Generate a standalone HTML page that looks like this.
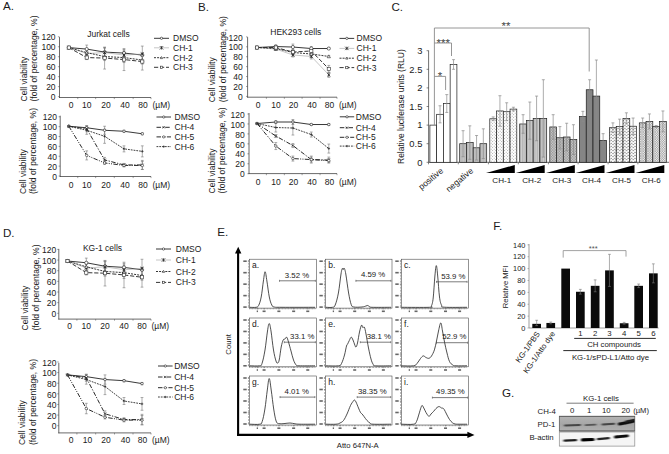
<!DOCTYPE html>
<html><head><meta charset="utf-8"><title>Figure</title>
<style>
html,body{margin:0;padding:0;background:#fff;}
body{width:669px;height:454px;overflow:hidden;font-family:'Liberation Sans', sans-serif;}
svg{display:block;font-family:'Liberation Sans', sans-serif;}
</style></head><body>
<svg width="669" height="454" viewBox="0 0 669 454">
<rect width="669" height="454" fill="#ffffff"/>
<text x="3.00" y="10.20" font-size="11.6" text-anchor="start" fill="#1a1a1a">A.</text>
<text x="198.00" y="10.60" font-size="11.6" text-anchor="start" fill="#1a1a1a">B.</text>
<text x="391.50" y="11.20" font-size="11.6" text-anchor="start" fill="#1a1a1a">C.</text>
<text x="3.00" y="237.30" font-size="11.6" text-anchor="start" fill="#1a1a1a">D.</text>
<text x="217.20" y="236.00" font-size="11.6" text-anchor="start" fill="#1a1a1a">E.</text>
<text x="493.20" y="230.30" font-size="11.6" text-anchor="start" fill="#1a1a1a">F.</text>
<text x="502.00" y="397.00" font-size="11.6" text-anchor="start" fill="#1a1a1a">G.</text>
<line x1="59.50" y1="37.10" x2="59.50" y2="97.90" stroke="#3a3a3a" stroke-width="0.75"/>
<line x1="59.10" y1="97.50" x2="151.00" y2="97.50" stroke="#3a3a3a" stroke-width="0.75"/>
<line x1="57.90" y1="96.60" x2="59.50" y2="96.60" stroke="#444" stroke-width="0.5"/>
<line x1="57.90" y1="86.63" x2="59.50" y2="86.63" stroke="#444" stroke-width="0.5"/>
<line x1="57.90" y1="76.66" x2="59.50" y2="76.66" stroke="#444" stroke-width="0.5"/>
<line x1="57.90" y1="66.69" x2="59.50" y2="66.69" stroke="#444" stroke-width="0.5"/>
<line x1="57.90" y1="56.72" x2="59.50" y2="56.72" stroke="#444" stroke-width="0.5"/>
<line x1="57.90" y1="46.75" x2="59.50" y2="46.75" stroke="#444" stroke-width="0.5"/>
<line x1="57.90" y1="36.78" x2="59.50" y2="36.78" stroke="#444" stroke-width="0.5"/>
<line x1="77.75" y1="97.50" x2="77.75" y2="99.10" stroke="#444" stroke-width="0.5"/>
<line x1="95.65" y1="97.50" x2="95.65" y2="99.10" stroke="#444" stroke-width="0.5"/>
<line x1="114.30" y1="97.50" x2="114.30" y2="99.10" stroke="#444" stroke-width="0.5"/>
<line x1="133.15" y1="97.50" x2="133.15" y2="99.10" stroke="#444" stroke-width="0.5"/>
<line x1="151.00" y1="97.50" x2="151.00" y2="99.10" stroke="#444" stroke-width="0.5"/>
<text x="55.60" y="100.26" font-size="8.5" text-anchor="end" fill="#1a1a1a">0</text>
<text x="55.60" y="90.29" font-size="8.5" text-anchor="end" fill="#1a1a1a">20</text>
<text x="55.60" y="80.32" font-size="8.5" text-anchor="end" fill="#1a1a1a">40</text>
<text x="55.60" y="70.35" font-size="8.5" text-anchor="end" fill="#1a1a1a">60</text>
<text x="55.60" y="60.38" font-size="8.5" text-anchor="end" fill="#1a1a1a">80</text>
<text x="55.60" y="50.41" font-size="8.5" text-anchor="end" fill="#1a1a1a">100</text>
<text x="55.60" y="40.44" font-size="8.5" text-anchor="end" fill="#1a1a1a">120</text>
<text x="71.00" y="108.26" font-size="8.5" text-anchor="middle" fill="#1a1a1a">0</text>
<text x="86.70" y="108.26" font-size="8.5" text-anchor="middle" fill="#1a1a1a">10</text>
<text x="106.00" y="108.26" font-size="8.5" text-anchor="middle" fill="#1a1a1a">20</text>
<text x="125.00" y="108.26" font-size="8.5" text-anchor="middle" fill="#1a1a1a">40</text>
<text x="143.00" y="108.26" font-size="8.5" text-anchor="middle" fill="#1a1a1a">80</text>
<text x="152.50" y="108.26" font-size="8.5" text-anchor="start" fill="#1a1a1a">(µM)</text>
<line x1="86.70" y1="45.09" x2="86.70" y2="53.07" stroke="#777" stroke-width="0.6"/>
<line x1="85.30" y1="45.09" x2="88.10" y2="45.09" stroke="#777" stroke-width="0.6"/>
<line x1="85.30" y1="53.07" x2="88.10" y2="53.07" stroke="#777" stroke-width="0.6"/>
<line x1="104.60" y1="48.08" x2="104.60" y2="56.07" stroke="#777" stroke-width="0.6"/>
<line x1="103.20" y1="48.08" x2="106.00" y2="48.08" stroke="#777" stroke-width="0.6"/>
<line x1="103.20" y1="56.07" x2="106.00" y2="56.07" stroke="#777" stroke-width="0.6"/>
<line x1="124.00" y1="49.58" x2="124.00" y2="56.57" stroke="#777" stroke-width="0.6"/>
<line x1="122.60" y1="49.58" x2="125.40" y2="49.58" stroke="#777" stroke-width="0.6"/>
<line x1="122.60" y1="56.57" x2="125.40" y2="56.57" stroke="#777" stroke-width="0.6"/>
<line x1="86.70" y1="50.58" x2="86.70" y2="56.57" stroke="#777" stroke-width="0.6"/>
<line x1="85.30" y1="50.58" x2="88.10" y2="50.58" stroke="#777" stroke-width="0.6"/>
<line x1="85.30" y1="56.57" x2="88.10" y2="56.57" stroke="#777" stroke-width="0.6"/>
<line x1="104.60" y1="47.58" x2="104.60" y2="57.57" stroke="#777" stroke-width="0.6"/>
<line x1="103.20" y1="47.58" x2="106.00" y2="47.58" stroke="#777" stroke-width="0.6"/>
<line x1="103.20" y1="57.57" x2="106.00" y2="57.57" stroke="#777" stroke-width="0.6"/>
<line x1="124.00" y1="51.08" x2="124.00" y2="59.06" stroke="#777" stroke-width="0.6"/>
<line x1="122.60" y1="51.08" x2="125.40" y2="51.08" stroke="#777" stroke-width="0.6"/>
<line x1="122.60" y1="59.06" x2="125.40" y2="59.06" stroke="#777" stroke-width="0.6"/>
<line x1="142.30" y1="46.09" x2="142.30" y2="62.06" stroke="#777" stroke-width="0.6"/>
<line x1="140.90" y1="46.09" x2="143.70" y2="46.09" stroke="#777" stroke-width="0.6"/>
<line x1="140.90" y1="62.06" x2="143.70" y2="62.06" stroke="#777" stroke-width="0.6"/>
<line x1="86.70" y1="49.58" x2="86.70" y2="55.57" stroke="#777" stroke-width="0.6"/>
<line x1="85.30" y1="49.58" x2="88.10" y2="49.58" stroke="#777" stroke-width="0.6"/>
<line x1="85.30" y1="55.57" x2="88.10" y2="55.57" stroke="#777" stroke-width="0.6"/>
<line x1="104.60" y1="52.58" x2="104.60" y2="60.56" stroke="#777" stroke-width="0.6"/>
<line x1="103.20" y1="52.58" x2="106.00" y2="52.58" stroke="#777" stroke-width="0.6"/>
<line x1="103.20" y1="60.56" x2="106.00" y2="60.56" stroke="#777" stroke-width="0.6"/>
<line x1="124.00" y1="52.58" x2="124.00" y2="62.56" stroke="#777" stroke-width="0.6"/>
<line x1="122.60" y1="52.58" x2="125.40" y2="52.58" stroke="#777" stroke-width="0.6"/>
<line x1="122.60" y1="62.56" x2="125.40" y2="62.56" stroke="#777" stroke-width="0.6"/>
<line x1="142.30" y1="56.07" x2="142.30" y2="64.06" stroke="#777" stroke-width="0.6"/>
<line x1="140.90" y1="56.07" x2="143.70" y2="56.07" stroke="#777" stroke-width="0.6"/>
<line x1="140.90" y1="64.06" x2="143.70" y2="64.06" stroke="#777" stroke-width="0.6"/>
<line x1="86.70" y1="55.57" x2="86.70" y2="59.56" stroke="#777" stroke-width="0.6"/>
<line x1="85.30" y1="55.57" x2="88.10" y2="55.57" stroke="#777" stroke-width="0.6"/>
<line x1="85.30" y1="59.56" x2="88.10" y2="59.56" stroke="#777" stroke-width="0.6"/>
<line x1="104.60" y1="47.08" x2="104.60" y2="69.05" stroke="#777" stroke-width="0.6"/>
<line x1="103.20" y1="47.08" x2="106.00" y2="47.08" stroke="#777" stroke-width="0.6"/>
<line x1="103.20" y1="69.05" x2="106.00" y2="69.05" stroke="#777" stroke-width="0.6"/>
<line x1="124.00" y1="48.58" x2="124.00" y2="70.55" stroke="#777" stroke-width="0.6"/>
<line x1="122.60" y1="48.58" x2="125.40" y2="48.58" stroke="#777" stroke-width="0.6"/>
<line x1="122.60" y1="70.55" x2="125.40" y2="70.55" stroke="#777" stroke-width="0.6"/>
<line x1="142.30" y1="53.07" x2="142.30" y2="70.05" stroke="#777" stroke-width="0.6"/>
<line x1="140.90" y1="53.07" x2="143.70" y2="53.07" stroke="#777" stroke-width="0.6"/>
<line x1="140.90" y1="70.05" x2="143.70" y2="70.05" stroke="#777" stroke-width="0.6"/>
<path d="M68.80 47.58 L86.70 49.08 L104.60 52.08 L124.00 53.07 L142.30 55.07" fill="none" stroke="#222" stroke-width="0.9"/>
<circle cx="68.80" cy="47.58" r="1.60" fill="#fff" stroke="#222" stroke-width="0.6"/>
<circle cx="86.70" cy="49.08" r="1.60" fill="#fff" stroke="#222" stroke-width="0.6"/>
<circle cx="104.60" cy="52.08" r="1.60" fill="#fff" stroke="#222" stroke-width="0.6"/>
<circle cx="124.00" cy="53.07" r="1.60" fill="#fff" stroke="#222" stroke-width="0.6"/>
<circle cx="142.30" cy="55.07" r="1.60" fill="#fff" stroke="#222" stroke-width="0.6"/>
<path d="M68.80 47.58 L86.70 53.57 L104.60 52.58 L124.00 55.07 L142.30 54.07" fill="none" stroke="#a0a0a0" stroke-width="0.6"/>
<path d="M67.20 45.98 L70.40 49.18 M67.20 49.18 L70.40 45.98 M68.80 45.98 L68.80 49.18" fill="none" stroke="#222" stroke-width="0.75"/>
<path d="M85.10 51.97 L88.30 55.17 M85.10 55.17 L88.30 51.97 M86.70 51.97 L86.70 55.17" fill="none" stroke="#222" stroke-width="0.75"/>
<path d="M103.00 50.98 L106.20 54.18 M103.00 54.18 L106.20 50.98 M104.60 50.98 L104.60 54.18" fill="none" stroke="#222" stroke-width="0.75"/>
<path d="M122.40 53.47 L125.60 56.67 M122.40 56.67 L125.60 53.47 M124.00 53.47 L124.00 56.67" fill="none" stroke="#222" stroke-width="0.75"/>
<path d="M140.70 52.47 L143.90 55.67 M140.70 55.67 L143.90 52.47 M142.30 52.47 L142.30 55.67" fill="none" stroke="#222" stroke-width="0.75"/>
<path d="M68.80 47.58 L86.70 52.58 L104.60 56.57 L124.00 57.57 L142.30 60.06" fill="none" stroke="#2a2a2a" stroke-width="0.95" stroke-dasharray="2 1.1"/>
<path d="M68.80 45.98 L70.40 48.86 L67.20 48.86 Z" fill="#fff" stroke="#2a2a2a" stroke-width="0.6"/>
<path d="M86.70 50.98 L88.30 53.86 L85.10 53.86 Z" fill="#fff" stroke="#2a2a2a" stroke-width="0.6"/>
<path d="M104.60 54.97 L106.20 57.85 L103.00 57.85 Z" fill="#fff" stroke="#2a2a2a" stroke-width="0.6"/>
<path d="M124.00 55.97 L125.60 58.85 L122.40 58.85 Z" fill="#fff" stroke="#2a2a2a" stroke-width="0.6"/>
<path d="M142.30 58.46 L143.90 61.34 L140.70 61.34 Z" fill="#fff" stroke="#2a2a2a" stroke-width="0.6"/>
<path d="M68.80 47.58 L86.70 57.57 L104.60 58.07 L124.00 59.56 L142.30 61.56" fill="none" stroke="#2a2a2a" stroke-width="0.95" stroke-dasharray="4.2 1.8"/>
<rect x="67.20" y="45.98" width="3.20" height="3.20" fill="#fff" stroke="#2a2a2a" stroke-width="0.6"/>
<rect x="85.10" y="55.97" width="3.20" height="3.20" fill="#fff" stroke="#2a2a2a" stroke-width="0.6"/>
<rect x="103.00" y="56.47" width="3.20" height="3.20" fill="#fff" stroke="#2a2a2a" stroke-width="0.6"/>
<rect x="122.40" y="57.96" width="3.20" height="3.20" fill="#fff" stroke="#2a2a2a" stroke-width="0.6"/>
<rect x="140.70" y="59.96" width="3.20" height="3.20" fill="#fff" stroke="#2a2a2a" stroke-width="0.6"/>
<text x="108.50" y="36.60" font-size="8.5" text-anchor="middle" fill="#1a1a1a">Jurkat cells</text>
<line x1="154" y1="38.30" x2="169" y2="38.30" stroke="#222" stroke-width="0.9"/>
<circle cx="161.50" cy="38.30" r="1.15" fill="#fff" stroke="#222" stroke-width="0.6"/>
<text x="173.00" y="41.36" font-size="8.5" text-anchor="start" fill="#1a1a1a">DMSO</text>
<line x1="154" y1="47.80" x2="169" y2="47.80" stroke="#a0a0a0" stroke-width="0.6"/>
<path d="M159.80 46.10 L163.20 49.50 M159.80 49.50 L163.20 46.10 M161.50 46.10 L161.50 49.50" fill="none" stroke="#222" stroke-width="0.75"/>
<text x="173.00" y="50.86" font-size="8.5" text-anchor="start" fill="#1a1a1a">CH-1</text>
<line x1="154" y1="57.70" x2="169" y2="57.70" stroke="#2a2a2a" stroke-width="0.95" stroke-dasharray="2 1.1"/>
<path d="M161.50 56.55 L162.65 58.62 L160.35 58.62 Z" fill="#fff" stroke="#2a2a2a" stroke-width="0.6"/>
<text x="173.00" y="60.76" font-size="8.5" text-anchor="start" fill="#1a1a1a">CH-2</text>
<line x1="154" y1="67.30" x2="169" y2="67.30" stroke="#2a2a2a" stroke-width="0.95" stroke-dasharray="4.2 1.8"/>
<rect x="160.35" y="66.15" width="2.30" height="2.30" fill="#fff" stroke="#2a2a2a" stroke-width="0.6"/>
<text x="173.00" y="70.36" font-size="8.5" text-anchor="start" fill="#1a1a1a">CH-3</text>
<text x="26.60" y="101.50" font-size="8.5" text-anchor="start" fill="#1a1a1a" transform="rotate(-90 26.6 101.5)">Cell viability</text>
<text x="37.10" y="101.50" font-size="8.5" text-anchor="start" fill="#1a1a1a" transform="rotate(-90 37.1 101.5)">(fold of percentage, %)</text>
<line x1="60.20" y1="115.70" x2="60.20" y2="176.90" stroke="#3a3a3a" stroke-width="0.75"/>
<line x1="59.80" y1="176.50" x2="151.00" y2="176.50" stroke="#3a3a3a" stroke-width="0.75"/>
<line x1="58.60" y1="176.00" x2="60.20" y2="176.00" stroke="#444" stroke-width="0.5"/>
<line x1="58.60" y1="166.13" x2="60.20" y2="166.13" stroke="#444" stroke-width="0.5"/>
<line x1="58.60" y1="156.26" x2="60.20" y2="156.26" stroke="#444" stroke-width="0.5"/>
<line x1="58.60" y1="146.39" x2="60.20" y2="146.39" stroke="#444" stroke-width="0.5"/>
<line x1="58.60" y1="136.52" x2="60.20" y2="136.52" stroke="#444" stroke-width="0.5"/>
<line x1="58.60" y1="126.65" x2="60.20" y2="126.65" stroke="#444" stroke-width="0.5"/>
<line x1="58.60" y1="116.78" x2="60.20" y2="116.78" stroke="#444" stroke-width="0.5"/>
<line x1="77.75" y1="176.50" x2="77.75" y2="178.10" stroke="#444" stroke-width="0.5"/>
<line x1="95.65" y1="176.50" x2="95.65" y2="178.10" stroke="#444" stroke-width="0.5"/>
<line x1="114.30" y1="176.50" x2="114.30" y2="178.10" stroke="#444" stroke-width="0.5"/>
<line x1="133.15" y1="176.50" x2="133.15" y2="178.10" stroke="#444" stroke-width="0.5"/>
<line x1="151.00" y1="176.50" x2="151.00" y2="178.10" stroke="#444" stroke-width="0.5"/>
<text x="56.90" y="179.66" font-size="8.5" text-anchor="end" fill="#1a1a1a">0</text>
<text x="56.90" y="169.79" font-size="8.5" text-anchor="end" fill="#1a1a1a">20</text>
<text x="56.90" y="159.92" font-size="8.5" text-anchor="end" fill="#1a1a1a">40</text>
<text x="56.90" y="150.05" font-size="8.5" text-anchor="end" fill="#1a1a1a">60</text>
<text x="56.90" y="140.18" font-size="8.5" text-anchor="end" fill="#1a1a1a">80</text>
<text x="56.90" y="130.31" font-size="8.5" text-anchor="end" fill="#1a1a1a">100</text>
<text x="56.90" y="120.44" font-size="8.5" text-anchor="end" fill="#1a1a1a">120</text>
<text x="71.00" y="187.56" font-size="8.5" text-anchor="middle" fill="#1a1a1a">0</text>
<text x="86.70" y="187.56" font-size="8.5" text-anchor="middle" fill="#1a1a1a">10</text>
<text x="106.00" y="187.56" font-size="8.5" text-anchor="middle" fill="#1a1a1a">20</text>
<text x="125.00" y="187.56" font-size="8.5" text-anchor="middle" fill="#1a1a1a">40</text>
<text x="143.00" y="187.56" font-size="8.5" text-anchor="middle" fill="#1a1a1a">80</text>
<text x="152.50" y="187.56" font-size="8.5" text-anchor="start" fill="#1a1a1a">(µM)</text>
<line x1="86.70" y1="125.75" x2="86.70" y2="129.77" stroke="#777" stroke-width="0.6"/>
<line x1="85.30" y1="125.75" x2="88.10" y2="125.75" stroke="#777" stroke-width="0.6"/>
<line x1="85.30" y1="129.77" x2="88.10" y2="129.77" stroke="#777" stroke-width="0.6"/>
<line x1="104.60" y1="126.25" x2="104.60" y2="134.29" stroke="#777" stroke-width="0.6"/>
<line x1="103.20" y1="126.25" x2="106.00" y2="126.25" stroke="#777" stroke-width="0.6"/>
<line x1="103.20" y1="134.29" x2="106.00" y2="134.29" stroke="#777" stroke-width="0.6"/>
<line x1="124.00" y1="130.27" x2="124.00" y2="132.28" stroke="#777" stroke-width="0.6"/>
<line x1="122.60" y1="130.27" x2="125.40" y2="130.27" stroke="#777" stroke-width="0.6"/>
<line x1="122.60" y1="132.28" x2="125.40" y2="132.28" stroke="#777" stroke-width="0.6"/>
<line x1="142.30" y1="132.78" x2="142.30" y2="134.79" stroke="#777" stroke-width="0.6"/>
<line x1="140.90" y1="132.78" x2="143.70" y2="132.78" stroke="#777" stroke-width="0.6"/>
<line x1="140.90" y1="134.79" x2="143.70" y2="134.79" stroke="#777" stroke-width="0.6"/>
<line x1="86.70" y1="125.75" x2="86.70" y2="131.78" stroke="#777" stroke-width="0.6"/>
<line x1="85.30" y1="125.75" x2="88.10" y2="125.75" stroke="#777" stroke-width="0.6"/>
<line x1="85.30" y1="131.78" x2="88.10" y2="131.78" stroke="#777" stroke-width="0.6"/>
<line x1="104.60" y1="157.41" x2="104.60" y2="162.43" stroke="#777" stroke-width="0.6"/>
<line x1="103.20" y1="157.41" x2="106.00" y2="157.41" stroke="#777" stroke-width="0.6"/>
<line x1="103.20" y1="162.43" x2="106.00" y2="162.43" stroke="#777" stroke-width="0.6"/>
<line x1="124.00" y1="163.44" x2="124.00" y2="166.45" stroke="#777" stroke-width="0.6"/>
<line x1="122.60" y1="163.44" x2="125.40" y2="163.44" stroke="#777" stroke-width="0.6"/>
<line x1="122.60" y1="166.45" x2="125.40" y2="166.45" stroke="#777" stroke-width="0.6"/>
<line x1="142.30" y1="160.42" x2="142.30" y2="169.47" stroke="#777" stroke-width="0.6"/>
<line x1="140.90" y1="160.42" x2="143.70" y2="160.42" stroke="#777" stroke-width="0.6"/>
<line x1="140.90" y1="169.47" x2="143.70" y2="169.47" stroke="#777" stroke-width="0.6"/>
<line x1="86.70" y1="150.87" x2="86.70" y2="159.92" stroke="#777" stroke-width="0.6"/>
<line x1="85.30" y1="150.87" x2="88.10" y2="150.87" stroke="#777" stroke-width="0.6"/>
<line x1="85.30" y1="159.92" x2="88.10" y2="159.92" stroke="#777" stroke-width="0.6"/>
<line x1="104.60" y1="161.43" x2="104.60" y2="164.44" stroke="#777" stroke-width="0.6"/>
<line x1="103.20" y1="161.43" x2="106.00" y2="161.43" stroke="#777" stroke-width="0.6"/>
<line x1="103.20" y1="164.44" x2="106.00" y2="164.44" stroke="#777" stroke-width="0.6"/>
<line x1="124.00" y1="163.94" x2="124.00" y2="166.95" stroke="#777" stroke-width="0.6"/>
<line x1="122.60" y1="163.94" x2="125.40" y2="163.94" stroke="#777" stroke-width="0.6"/>
<line x1="122.60" y1="166.95" x2="125.40" y2="166.95" stroke="#777" stroke-width="0.6"/>
<line x1="142.30" y1="161.42" x2="142.30" y2="169.47" stroke="#777" stroke-width="0.6"/>
<line x1="140.90" y1="161.42" x2="143.70" y2="161.42" stroke="#777" stroke-width="0.6"/>
<line x1="140.90" y1="169.47" x2="143.70" y2="169.47" stroke="#777" stroke-width="0.6"/>
<line x1="86.70" y1="126.25" x2="86.70" y2="134.29" stroke="#777" stroke-width="0.6"/>
<line x1="85.30" y1="126.25" x2="88.10" y2="126.25" stroke="#777" stroke-width="0.6"/>
<line x1="85.30" y1="134.29" x2="88.10" y2="134.29" stroke="#777" stroke-width="0.6"/>
<line x1="104.60" y1="129.27" x2="104.60" y2="143.34" stroke="#777" stroke-width="0.6"/>
<line x1="103.20" y1="129.27" x2="106.00" y2="129.27" stroke="#777" stroke-width="0.6"/>
<line x1="103.20" y1="143.34" x2="106.00" y2="143.34" stroke="#777" stroke-width="0.6"/>
<line x1="124.00" y1="145.85" x2="124.00" y2="151.88" stroke="#777" stroke-width="0.6"/>
<line x1="122.60" y1="145.85" x2="125.40" y2="145.85" stroke="#777" stroke-width="0.6"/>
<line x1="122.60" y1="151.88" x2="125.40" y2="151.88" stroke="#777" stroke-width="0.6"/>
<line x1="142.30" y1="145.85" x2="142.30" y2="156.90" stroke="#777" stroke-width="0.6"/>
<line x1="140.90" y1="145.85" x2="143.70" y2="145.85" stroke="#777" stroke-width="0.6"/>
<line x1="140.90" y1="156.90" x2="143.70" y2="156.90" stroke="#777" stroke-width="0.6"/>
<path d="M68.80 126.25 L86.70 127.76 L104.60 130.27 L124.00 131.28 L142.30 133.79" fill="none" stroke="#222" stroke-width="0.9"/>
<circle cx="68.80" cy="126.25" r="1.25" fill="#fff" stroke="#222" stroke-width="0.6"/>
<circle cx="86.70" cy="127.76" r="1.25" fill="#fff" stroke="#222" stroke-width="0.6"/>
<circle cx="104.60" cy="130.27" r="1.25" fill="#fff" stroke="#222" stroke-width="0.6"/>
<circle cx="124.00" cy="131.28" r="1.25" fill="#fff" stroke="#222" stroke-width="0.6"/>
<circle cx="142.30" cy="133.79" r="1.25" fill="#fff" stroke="#222" stroke-width="0.6"/>
<path d="M68.80 126.25 L86.70 128.76 L104.60 159.92 L124.00 164.94 L142.30 164.94" fill="none" stroke="#2a2a2a" stroke-width="1.0" stroke-dasharray="4.5 1.5 1.2 1.5"/>
<path d="M67.55 125.00 L70.05 127.50 M67.55 127.50 L70.05 125.00" fill="none" stroke="#2a2a2a" stroke-width="0.7"/>
<path d="M85.45 127.51 L87.95 130.01 M85.45 130.01 L87.95 127.51" fill="none" stroke="#2a2a2a" stroke-width="0.7"/>
<path d="M103.35 158.67 L105.85 161.17 M103.35 161.17 L105.85 158.67" fill="none" stroke="#2a2a2a" stroke-width="0.7"/>
<path d="M122.75 163.69 L125.25 166.19 M122.75 166.19 L125.25 163.69" fill="none" stroke="#2a2a2a" stroke-width="0.7"/>
<path d="M141.05 163.69 L143.55 166.19 M141.05 166.19 L143.55 163.69" fill="none" stroke="#2a2a2a" stroke-width="0.7"/>
<path d="M68.80 126.25 L86.70 155.40 L104.60 162.93 L124.00 165.44 L142.30 165.44" fill="none" stroke="#2a2a2a" stroke-width="1.0" stroke-dasharray="4.5 1.3 1 1.3 1 1.3"/>
<circle cx="68.80" cy="126.25" r="1.25" fill="#fff" stroke="#2a2a2a" stroke-width="0.6"/>
<circle cx="86.70" cy="155.40" r="1.25" fill="#fff" stroke="#2a2a2a" stroke-width="0.6"/>
<circle cx="104.60" cy="162.93" r="1.25" fill="#fff" stroke="#2a2a2a" stroke-width="0.6"/>
<circle cx="124.00" cy="165.44" r="1.25" fill="#fff" stroke="#2a2a2a" stroke-width="0.6"/>
<circle cx="142.30" cy="165.44" r="1.25" fill="#fff" stroke="#2a2a2a" stroke-width="0.6"/>
<path d="M68.80 126.25 L86.70 130.27 L104.60 136.30 L124.00 148.86 L142.30 151.38" fill="none" stroke="#2a2a2a" stroke-width="0.9" stroke-dasharray="1.8 1"/>
<path d="M67.55 126.25 L70.05 126.25 M68.80 125.00 L68.80 127.50" fill="none" stroke="#2a2a2a" stroke-width="0.7"/>
<path d="M85.45 130.27 L87.95 130.27 M86.70 129.02 L86.70 131.52" fill="none" stroke="#2a2a2a" stroke-width="0.7"/>
<path d="M103.35 136.30 L105.85 136.30 M104.60 135.05 L104.60 137.55" fill="none" stroke="#2a2a2a" stroke-width="0.7"/>
<path d="M122.75 148.86 L125.25 148.86 M124.00 147.61 L124.00 150.11" fill="none" stroke="#2a2a2a" stroke-width="0.7"/>
<path d="M141.05 151.38 L143.55 151.38 M142.30 150.12 L142.30 152.62" fill="none" stroke="#2a2a2a" stroke-width="0.7"/>
<line x1="156.5" y1="117.00" x2="171" y2="117.00" stroke="#222" stroke-width="0.9"/>
<circle cx="163.75" cy="117.00" r="1.15" fill="#fff" stroke="#222" stroke-width="0.6"/>
<text x="174.50" y="120.06" font-size="8.5" text-anchor="start" fill="#1a1a1a">DMSO</text>
<line x1="156.5" y1="127.30" x2="171" y2="127.30" stroke="#2a2a2a" stroke-width="1.0" stroke-dasharray="4.5 1.5 1.2 1.5"/>
<path d="M162.60 126.15 L164.90 128.45 M162.60 128.45 L164.90 126.15" fill="none" stroke="#2a2a2a" stroke-width="0.7"/>
<text x="174.50" y="130.36" font-size="8.5" text-anchor="start" fill="#1a1a1a">CH-4</text>
<line x1="156.5" y1="136.90" x2="171" y2="136.90" stroke="#2a2a2a" stroke-width="1.0" stroke-dasharray="4.5 1.3 1 1.3 1 1.3"/>
<circle cx="163.75" cy="136.90" r="1.15" fill="#fff" stroke="#2a2a2a" stroke-width="0.6"/>
<text x="174.50" y="139.96" font-size="8.5" text-anchor="start" fill="#1a1a1a">CH-5</text>
<line x1="156.5" y1="146.60" x2="171" y2="146.60" stroke="#2a2a2a" stroke-width="0.9" stroke-dasharray="1.8 1"/>
<path d="M162.60 146.60 L164.90 146.60 M163.75 145.45 L163.75 147.75" fill="none" stroke="#2a2a2a" stroke-width="0.7"/>
<text x="174.50" y="149.66" font-size="8.5" text-anchor="start" fill="#1a1a1a">CH-6</text>
<text x="25.70" y="194.00" font-size="8.5" text-anchor="start" fill="#1a1a1a" transform="rotate(-90 25.7 194.0)">Cell viability</text>
<text x="36.20" y="194.00" font-size="8.5" text-anchor="start" fill="#1a1a1a" transform="rotate(-90 36.2 194.0)">(fold of percentage, %)</text>
<line x1="247.60" y1="37.10" x2="247.60" y2="97.60" stroke="#3a3a3a" stroke-width="0.75"/>
<line x1="247.20" y1="97.20" x2="337.00" y2="97.20" stroke="#3a3a3a" stroke-width="0.75"/>
<line x1="246.00" y1="96.40" x2="247.60" y2="96.40" stroke="#444" stroke-width="0.5"/>
<line x1="246.00" y1="86.48" x2="247.60" y2="86.48" stroke="#444" stroke-width="0.5"/>
<line x1="246.00" y1="76.56" x2="247.60" y2="76.56" stroke="#444" stroke-width="0.5"/>
<line x1="246.00" y1="66.64" x2="247.60" y2="66.64" stroke="#444" stroke-width="0.5"/>
<line x1="246.00" y1="56.72" x2="247.60" y2="56.72" stroke="#444" stroke-width="0.5"/>
<line x1="246.00" y1="46.80" x2="247.60" y2="46.80" stroke="#444" stroke-width="0.5"/>
<line x1="246.00" y1="36.88" x2="247.60" y2="36.88" stroke="#444" stroke-width="0.5"/>
<line x1="266.40" y1="97.20" x2="266.40" y2="98.80" stroke="#444" stroke-width="0.5"/>
<line x1="284.35" y1="97.20" x2="284.35" y2="98.80" stroke="#444" stroke-width="0.5"/>
<line x1="302.10" y1="97.20" x2="302.10" y2="98.80" stroke="#444" stroke-width="0.5"/>
<line x1="320.05" y1="97.20" x2="320.05" y2="98.80" stroke="#444" stroke-width="0.5"/>
<line x1="337.00" y1="97.20" x2="337.00" y2="98.80" stroke="#444" stroke-width="0.5"/>
<text x="242.70" y="100.06" font-size="8.5" text-anchor="end" fill="#1a1a1a">0</text>
<text x="242.70" y="90.14" font-size="8.5" text-anchor="end" fill="#1a1a1a">20</text>
<text x="242.70" y="80.22" font-size="8.5" text-anchor="end" fill="#1a1a1a">40</text>
<text x="242.70" y="70.30" font-size="8.5" text-anchor="end" fill="#1a1a1a">60</text>
<text x="242.70" y="60.38" font-size="8.5" text-anchor="end" fill="#1a1a1a">80</text>
<text x="242.70" y="50.46" font-size="8.5" text-anchor="end" fill="#1a1a1a">100</text>
<text x="242.70" y="40.54" font-size="8.5" text-anchor="end" fill="#1a1a1a">120</text>
<text x="258.00" y="107.86" font-size="8.5" text-anchor="middle" fill="#1a1a1a">0</text>
<text x="276.00" y="107.86" font-size="8.5" text-anchor="middle" fill="#1a1a1a">10</text>
<text x="293.50" y="107.86" font-size="8.5" text-anchor="middle" fill="#1a1a1a">20</text>
<text x="312.00" y="107.86" font-size="8.5" text-anchor="middle" fill="#1a1a1a">40</text>
<text x="329.50" y="107.86" font-size="8.5" text-anchor="middle" fill="#1a1a1a">80</text>
<text x="339.00" y="107.86" font-size="8.5" text-anchor="start" fill="#1a1a1a">(µM)</text>
<line x1="275.80" y1="45.05" x2="275.80" y2="48.03" stroke="#777" stroke-width="0.6"/>
<line x1="274.40" y1="45.05" x2="277.20" y2="45.05" stroke="#777" stroke-width="0.6"/>
<line x1="274.40" y1="48.03" x2="277.20" y2="48.03" stroke="#777" stroke-width="0.6"/>
<line x1="292.90" y1="44.06" x2="292.90" y2="50.02" stroke="#777" stroke-width="0.6"/>
<line x1="291.50" y1="44.06" x2="294.30" y2="44.06" stroke="#777" stroke-width="0.6"/>
<line x1="291.50" y1="50.02" x2="294.30" y2="50.02" stroke="#777" stroke-width="0.6"/>
<line x1="311.30" y1="46.54" x2="311.30" y2="50.51" stroke="#777" stroke-width="0.6"/>
<line x1="309.90" y1="46.54" x2="312.70" y2="46.54" stroke="#777" stroke-width="0.6"/>
<line x1="309.90" y1="50.51" x2="312.70" y2="50.51" stroke="#777" stroke-width="0.6"/>
<line x1="328.80" y1="47.53" x2="328.80" y2="49.52" stroke="#777" stroke-width="0.6"/>
<line x1="327.40" y1="47.53" x2="330.20" y2="47.53" stroke="#777" stroke-width="0.6"/>
<line x1="327.40" y1="49.52" x2="330.20" y2="49.52" stroke="#777" stroke-width="0.6"/>
<line x1="275.80" y1="47.53" x2="275.80" y2="50.51" stroke="#777" stroke-width="0.6"/>
<line x1="274.40" y1="47.53" x2="277.20" y2="47.53" stroke="#777" stroke-width="0.6"/>
<line x1="274.40" y1="50.51" x2="277.20" y2="50.51" stroke="#777" stroke-width="0.6"/>
<line x1="292.90" y1="53.00" x2="292.90" y2="56.97" stroke="#777" stroke-width="0.6"/>
<line x1="291.50" y1="53.00" x2="294.30" y2="53.00" stroke="#777" stroke-width="0.6"/>
<line x1="291.50" y1="56.97" x2="294.30" y2="56.97" stroke="#777" stroke-width="0.6"/>
<line x1="311.30" y1="53.99" x2="311.30" y2="58.96" stroke="#777" stroke-width="0.6"/>
<line x1="309.90" y1="53.99" x2="312.70" y2="53.99" stroke="#777" stroke-width="0.6"/>
<line x1="309.90" y1="58.96" x2="312.70" y2="58.96" stroke="#777" stroke-width="0.6"/>
<line x1="328.80" y1="72.37" x2="328.80" y2="77.33" stroke="#777" stroke-width="0.6"/>
<line x1="327.40" y1="72.37" x2="330.20" y2="72.37" stroke="#777" stroke-width="0.6"/>
<line x1="327.40" y1="77.33" x2="330.20" y2="77.33" stroke="#777" stroke-width="0.6"/>
<line x1="275.80" y1="47.04" x2="275.80" y2="50.02" stroke="#777" stroke-width="0.6"/>
<line x1="274.40" y1="47.04" x2="277.20" y2="47.04" stroke="#777" stroke-width="0.6"/>
<line x1="274.40" y1="50.02" x2="277.20" y2="50.02" stroke="#777" stroke-width="0.6"/>
<line x1="292.90" y1="50.51" x2="292.90" y2="54.49" stroke="#777" stroke-width="0.6"/>
<line x1="291.50" y1="50.51" x2="294.30" y2="50.51" stroke="#777" stroke-width="0.6"/>
<line x1="291.50" y1="54.49" x2="294.30" y2="54.49" stroke="#777" stroke-width="0.6"/>
<line x1="311.30" y1="52.00" x2="311.30" y2="55.98" stroke="#777" stroke-width="0.6"/>
<line x1="309.90" y1="52.00" x2="312.70" y2="52.00" stroke="#777" stroke-width="0.6"/>
<line x1="309.90" y1="55.98" x2="312.70" y2="55.98" stroke="#777" stroke-width="0.6"/>
<line x1="328.80" y1="55.48" x2="328.80" y2="57.47" stroke="#777" stroke-width="0.6"/>
<line x1="327.40" y1="55.48" x2="330.20" y2="55.48" stroke="#777" stroke-width="0.6"/>
<line x1="327.40" y1="57.47" x2="330.20" y2="57.47" stroke="#777" stroke-width="0.6"/>
<line x1="275.80" y1="46.04" x2="275.80" y2="49.02" stroke="#777" stroke-width="0.6"/>
<line x1="274.40" y1="46.04" x2="277.20" y2="46.04" stroke="#777" stroke-width="0.6"/>
<line x1="274.40" y1="49.02" x2="277.20" y2="49.02" stroke="#777" stroke-width="0.6"/>
<line x1="292.90" y1="49.52" x2="292.90" y2="54.49" stroke="#777" stroke-width="0.6"/>
<line x1="291.50" y1="49.52" x2="294.30" y2="49.52" stroke="#777" stroke-width="0.6"/>
<line x1="291.50" y1="54.49" x2="294.30" y2="54.49" stroke="#777" stroke-width="0.6"/>
<line x1="311.30" y1="48.53" x2="311.30" y2="53.49" stroke="#777" stroke-width="0.6"/>
<line x1="309.90" y1="48.53" x2="312.70" y2="48.53" stroke="#777" stroke-width="0.6"/>
<line x1="309.90" y1="53.49" x2="312.70" y2="53.49" stroke="#777" stroke-width="0.6"/>
<line x1="328.80" y1="65.41" x2="328.80" y2="72.37" stroke="#777" stroke-width="0.6"/>
<line x1="327.40" y1="65.41" x2="330.20" y2="65.41" stroke="#777" stroke-width="0.6"/>
<line x1="327.40" y1="72.37" x2="330.20" y2="72.37" stroke="#777" stroke-width="0.6"/>
<path d="M257.00 47.53 L275.80 46.54 L292.90 47.04 L311.30 48.53 L328.80 48.53" fill="none" stroke="#222" stroke-width="0.9"/>
<circle cx="257.00" cy="47.53" r="1.60" fill="#fff" stroke="#222" stroke-width="0.6"/>
<circle cx="275.80" cy="46.54" r="1.60" fill="#fff" stroke="#222" stroke-width="0.6"/>
<circle cx="292.90" cy="47.04" r="1.60" fill="#fff" stroke="#222" stroke-width="0.6"/>
<circle cx="311.30" cy="48.53" r="1.60" fill="#fff" stroke="#222" stroke-width="0.6"/>
<circle cx="328.80" cy="48.53" r="1.60" fill="#fff" stroke="#222" stroke-width="0.6"/>
<path d="M257.00 47.53 L275.80 49.02 L292.90 54.98 L311.30 56.47 L328.80 74.85" fill="none" stroke="#a0a0a0" stroke-width="0.6"/>
<path d="M255.40 45.93 L258.60 49.13 M255.40 49.13 L258.60 45.93 M257.00 45.93 L257.00 49.13" fill="none" stroke="#222" stroke-width="0.75"/>
<path d="M274.20 47.42 L277.40 50.62 M274.20 50.62 L277.40 47.42 M275.80 47.42 L275.80 50.62" fill="none" stroke="#222" stroke-width="0.75"/>
<path d="M291.30 53.38 L294.50 56.58 M291.30 56.58 L294.50 53.38 M292.90 53.38 L292.90 56.58" fill="none" stroke="#222" stroke-width="0.75"/>
<path d="M309.70 54.87 L312.90 58.07 M309.70 58.07 L312.90 54.87 M311.30 54.87 L311.30 58.07" fill="none" stroke="#222" stroke-width="0.75"/>
<path d="M327.20 73.25 L330.40 76.45 M327.20 76.45 L330.40 73.25 M328.80 73.25 L328.80 76.45" fill="none" stroke="#222" stroke-width="0.75"/>
<path d="M257.00 47.53 L275.80 48.53 L292.90 52.50 L311.30 53.99 L328.80 56.47" fill="none" stroke="#2a2a2a" stroke-width="0.95" stroke-dasharray="2 1.1"/>
<path d="M257.00 45.93 L258.60 48.81 L255.40 48.81 Z" fill="#fff" stroke="#2a2a2a" stroke-width="0.6"/>
<path d="M275.80 46.93 L277.40 49.81 L274.20 49.81 Z" fill="#fff" stroke="#2a2a2a" stroke-width="0.6"/>
<path d="M292.90 50.90 L294.50 53.78 L291.30 53.78 Z" fill="#fff" stroke="#2a2a2a" stroke-width="0.6"/>
<path d="M311.30 52.39 L312.90 55.27 L309.70 55.27 Z" fill="#fff" stroke="#2a2a2a" stroke-width="0.6"/>
<path d="M328.80 54.87 L330.40 57.75 L327.20 57.75 Z" fill="#fff" stroke="#2a2a2a" stroke-width="0.6"/>
<path d="M257.00 47.53 L275.80 47.53 L292.90 52.00 L311.30 51.01 L328.80 68.89" fill="none" stroke="#2a2a2a" stroke-width="0.95" stroke-dasharray="4.2 1.8"/>
<rect x="255.40" y="45.93" width="3.20" height="3.20" fill="#fff" stroke="#2a2a2a" stroke-width="0.6"/>
<rect x="274.20" y="45.93" width="3.20" height="3.20" fill="#fff" stroke="#2a2a2a" stroke-width="0.6"/>
<rect x="291.30" y="50.40" width="3.20" height="3.20" fill="#fff" stroke="#2a2a2a" stroke-width="0.6"/>
<rect x="309.70" y="49.41" width="3.20" height="3.20" fill="#fff" stroke="#2a2a2a" stroke-width="0.6"/>
<rect x="327.20" y="67.29" width="3.20" height="3.20" fill="#fff" stroke="#2a2a2a" stroke-width="0.6"/>
<text x="295.80" y="35.20" font-size="8.5" text-anchor="middle" fill="#1a1a1a">HEK293 cells</text>
<line x1="339.5" y1="38.40" x2="354.2" y2="38.40" stroke="#222" stroke-width="0.9"/>
<circle cx="346.85" cy="38.40" r="1.15" fill="#fff" stroke="#222" stroke-width="0.6"/>
<text x="356.60" y="41.46" font-size="8.5" text-anchor="start" fill="#1a1a1a">DMSO</text>
<line x1="339.5" y1="48.40" x2="354.2" y2="48.40" stroke="#a0a0a0" stroke-width="0.6"/>
<path d="M345.15 46.70 L348.55 50.10 M345.15 50.10 L348.55 46.70 M346.85 46.70 L346.85 50.10" fill="none" stroke="#222" stroke-width="0.75"/>
<text x="356.60" y="51.46" font-size="8.5" text-anchor="start" fill="#1a1a1a">CH-1</text>
<line x1="339.5" y1="58.20" x2="354.2" y2="58.20" stroke="#2a2a2a" stroke-width="0.95" stroke-dasharray="2 1.1"/>
<path d="M346.85 57.05 L348.00 59.12 L345.70 59.12 Z" fill="#fff" stroke="#2a2a2a" stroke-width="0.6"/>
<text x="356.60" y="61.26" font-size="8.5" text-anchor="start" fill="#1a1a1a">CH-2</text>
<line x1="339.5" y1="67.60" x2="354.2" y2="67.60" stroke="#2a2a2a" stroke-width="0.95" stroke-dasharray="4.2 1.8"/>
<rect x="345.70" y="66.45" width="2.30" height="2.30" fill="#fff" stroke="#2a2a2a" stroke-width="0.6"/>
<text x="356.60" y="70.66" font-size="8.5" text-anchor="start" fill="#1a1a1a">CH-3</text>
<text x="215.50" y="102.20" font-size="8.5" text-anchor="start" fill="#1a1a1a" transform="rotate(-90 215.5 102.2)">Cell viability</text>
<text x="226.00" y="102.20" font-size="8.5" text-anchor="start" fill="#1a1a1a" transform="rotate(-90 226.0 102.2)">(fold of percentage, %)</text>
<line x1="249.00" y1="113.00" x2="249.00" y2="174.00" stroke="#3a3a3a" stroke-width="0.75"/>
<line x1="248.60" y1="173.60" x2="337.00" y2="173.60" stroke="#3a3a3a" stroke-width="0.75"/>
<line x1="247.40" y1="173.70" x2="249.00" y2="173.70" stroke="#444" stroke-width="0.5"/>
<line x1="247.40" y1="163.75" x2="249.00" y2="163.75" stroke="#444" stroke-width="0.5"/>
<line x1="247.40" y1="153.80" x2="249.00" y2="153.80" stroke="#444" stroke-width="0.5"/>
<line x1="247.40" y1="143.85" x2="249.00" y2="143.85" stroke="#444" stroke-width="0.5"/>
<line x1="247.40" y1="133.90" x2="249.00" y2="133.90" stroke="#444" stroke-width="0.5"/>
<line x1="247.40" y1="123.95" x2="249.00" y2="123.95" stroke="#444" stroke-width="0.5"/>
<line x1="247.40" y1="114.00" x2="249.00" y2="114.00" stroke="#444" stroke-width="0.5"/>
<line x1="266.40" y1="173.60" x2="266.40" y2="175.20" stroke="#444" stroke-width="0.5"/>
<line x1="284.35" y1="173.60" x2="284.35" y2="175.20" stroke="#444" stroke-width="0.5"/>
<line x1="302.10" y1="173.60" x2="302.10" y2="175.20" stroke="#444" stroke-width="0.5"/>
<line x1="320.05" y1="173.60" x2="320.05" y2="175.20" stroke="#444" stroke-width="0.5"/>
<line x1="337.00" y1="173.60" x2="337.00" y2="175.20" stroke="#444" stroke-width="0.5"/>
<text x="244.80" y="177.36" font-size="8.5" text-anchor="end" fill="#1a1a1a">0</text>
<text x="244.80" y="167.41" font-size="8.5" text-anchor="end" fill="#1a1a1a">20</text>
<text x="244.80" y="157.46" font-size="8.5" text-anchor="end" fill="#1a1a1a">40</text>
<text x="244.80" y="147.51" font-size="8.5" text-anchor="end" fill="#1a1a1a">60</text>
<text x="244.80" y="137.56" font-size="8.5" text-anchor="end" fill="#1a1a1a">80</text>
<text x="244.80" y="127.61" font-size="8.5" text-anchor="end" fill="#1a1a1a">100</text>
<text x="244.80" y="117.66" font-size="8.5" text-anchor="end" fill="#1a1a1a">120</text>
<text x="258.00" y="184.86" font-size="8.5" text-anchor="middle" fill="#1a1a1a">0</text>
<text x="276.00" y="184.86" font-size="8.5" text-anchor="middle" fill="#1a1a1a">10</text>
<text x="293.50" y="184.86" font-size="8.5" text-anchor="middle" fill="#1a1a1a">20</text>
<text x="312.00" y="184.86" font-size="8.5" text-anchor="middle" fill="#1a1a1a">40</text>
<text x="329.50" y="184.86" font-size="8.5" text-anchor="middle" fill="#1a1a1a">80</text>
<text x="339.00" y="184.86" font-size="8.5" text-anchor="start" fill="#1a1a1a">(µM)</text>
<line x1="275.80" y1="120.51" x2="275.80" y2="123.52" stroke="#777" stroke-width="0.6"/>
<line x1="274.40" y1="120.51" x2="277.20" y2="120.51" stroke="#777" stroke-width="0.6"/>
<line x1="274.40" y1="123.52" x2="277.20" y2="123.52" stroke="#777" stroke-width="0.6"/>
<line x1="292.90" y1="119.51" x2="292.90" y2="124.52" stroke="#777" stroke-width="0.6"/>
<line x1="291.50" y1="119.51" x2="294.30" y2="119.51" stroke="#777" stroke-width="0.6"/>
<line x1="291.50" y1="124.52" x2="294.30" y2="124.52" stroke="#777" stroke-width="0.6"/>
<line x1="311.30" y1="123.52" x2="311.30" y2="125.52" stroke="#777" stroke-width="0.6"/>
<line x1="309.90" y1="123.52" x2="312.70" y2="123.52" stroke="#777" stroke-width="0.6"/>
<line x1="309.90" y1="125.52" x2="312.70" y2="125.52" stroke="#777" stroke-width="0.6"/>
<line x1="328.80" y1="123.52" x2="328.80" y2="125.52" stroke="#777" stroke-width="0.6"/>
<line x1="327.40" y1="123.52" x2="330.20" y2="123.52" stroke="#777" stroke-width="0.6"/>
<line x1="327.40" y1="125.52" x2="330.20" y2="125.52" stroke="#777" stroke-width="0.6"/>
<line x1="275.80" y1="134.53" x2="275.80" y2="137.54" stroke="#777" stroke-width="0.6"/>
<line x1="274.40" y1="134.53" x2="277.20" y2="134.53" stroke="#777" stroke-width="0.6"/>
<line x1="274.40" y1="137.54" x2="277.20" y2="137.54" stroke="#777" stroke-width="0.6"/>
<line x1="292.90" y1="143.55" x2="292.90" y2="147.56" stroke="#777" stroke-width="0.6"/>
<line x1="291.50" y1="143.55" x2="294.30" y2="143.55" stroke="#777" stroke-width="0.6"/>
<line x1="291.50" y1="147.56" x2="294.30" y2="147.56" stroke="#777" stroke-width="0.6"/>
<line x1="311.30" y1="156.07" x2="311.30" y2="163.08" stroke="#777" stroke-width="0.6"/>
<line x1="309.90" y1="156.07" x2="312.70" y2="156.07" stroke="#777" stroke-width="0.6"/>
<line x1="309.90" y1="163.08" x2="312.70" y2="163.08" stroke="#777" stroke-width="0.6"/>
<line x1="328.80" y1="157.07" x2="328.80" y2="163.08" stroke="#777" stroke-width="0.6"/>
<line x1="327.40" y1="157.07" x2="330.20" y2="157.07" stroke="#777" stroke-width="0.6"/>
<line x1="327.40" y1="163.08" x2="330.20" y2="163.08" stroke="#777" stroke-width="0.6"/>
<line x1="275.80" y1="142.55" x2="275.80" y2="149.56" stroke="#777" stroke-width="0.6"/>
<line x1="274.40" y1="142.55" x2="277.20" y2="142.55" stroke="#777" stroke-width="0.6"/>
<line x1="274.40" y1="149.56" x2="277.20" y2="149.56" stroke="#777" stroke-width="0.6"/>
<line x1="292.90" y1="156.07" x2="292.90" y2="161.08" stroke="#777" stroke-width="0.6"/>
<line x1="291.50" y1="156.07" x2="294.30" y2="156.07" stroke="#777" stroke-width="0.6"/>
<line x1="291.50" y1="161.08" x2="294.30" y2="161.08" stroke="#777" stroke-width="0.6"/>
<line x1="311.30" y1="157.07" x2="311.30" y2="162.08" stroke="#777" stroke-width="0.6"/>
<line x1="309.90" y1="157.07" x2="312.70" y2="157.07" stroke="#777" stroke-width="0.6"/>
<line x1="309.90" y1="162.08" x2="312.70" y2="162.08" stroke="#777" stroke-width="0.6"/>
<line x1="328.80" y1="158.57" x2="328.80" y2="162.58" stroke="#777" stroke-width="0.6"/>
<line x1="327.40" y1="158.57" x2="330.20" y2="158.57" stroke="#777" stroke-width="0.6"/>
<line x1="327.40" y1="162.58" x2="330.20" y2="162.58" stroke="#777" stroke-width="0.6"/>
<line x1="275.80" y1="123.02" x2="275.80" y2="132.03" stroke="#777" stroke-width="0.6"/>
<line x1="274.40" y1="123.02" x2="277.20" y2="123.02" stroke="#777" stroke-width="0.6"/>
<line x1="274.40" y1="132.03" x2="277.20" y2="132.03" stroke="#777" stroke-width="0.6"/>
<line x1="292.90" y1="121.01" x2="292.90" y2="135.04" stroke="#777" stroke-width="0.6"/>
<line x1="291.50" y1="121.01" x2="294.30" y2="121.01" stroke="#777" stroke-width="0.6"/>
<line x1="291.50" y1="135.04" x2="294.30" y2="135.04" stroke="#777" stroke-width="0.6"/>
<line x1="311.30" y1="132.03" x2="311.30" y2="137.04" stroke="#777" stroke-width="0.6"/>
<line x1="309.90" y1="132.03" x2="312.70" y2="132.03" stroke="#777" stroke-width="0.6"/>
<line x1="309.90" y1="137.04" x2="312.70" y2="137.04" stroke="#777" stroke-width="0.6"/>
<line x1="328.80" y1="144.05" x2="328.80" y2="153.07" stroke="#777" stroke-width="0.6"/>
<line x1="327.40" y1="144.05" x2="330.20" y2="144.05" stroke="#777" stroke-width="0.6"/>
<line x1="327.40" y1="153.07" x2="330.20" y2="153.07" stroke="#777" stroke-width="0.6"/>
<path d="M257.00 123.52 L275.80 122.01 L292.90 122.01 L311.30 124.52 L328.80 124.52" fill="none" stroke="#222" stroke-width="0.9"/>
<circle cx="257.00" cy="123.52" r="1.25" fill="#fff" stroke="#222" stroke-width="0.6"/>
<circle cx="275.80" cy="122.01" r="1.25" fill="#fff" stroke="#222" stroke-width="0.6"/>
<circle cx="292.90" cy="122.01" r="1.25" fill="#fff" stroke="#222" stroke-width="0.6"/>
<circle cx="311.30" cy="124.52" r="1.25" fill="#fff" stroke="#222" stroke-width="0.6"/>
<circle cx="328.80" cy="124.52" r="1.25" fill="#fff" stroke="#222" stroke-width="0.6"/>
<path d="M257.00 123.52 L275.80 136.04 L292.90 145.55 L311.30 159.58 L328.80 160.08" fill="none" stroke="#2a2a2a" stroke-width="1.0" stroke-dasharray="4.5 1.5 1.2 1.5"/>
<path d="M255.75 122.27 L258.25 124.77 M255.75 124.77 L258.25 122.27" fill="none" stroke="#2a2a2a" stroke-width="0.7"/>
<path d="M274.55 134.79 L277.05 137.29 M274.55 137.29 L277.05 134.79" fill="none" stroke="#2a2a2a" stroke-width="0.7"/>
<path d="M291.65 144.30 L294.15 146.80 M291.65 146.80 L294.15 144.30" fill="none" stroke="#2a2a2a" stroke-width="0.7"/>
<path d="M310.05 158.33 L312.55 160.83 M310.05 160.83 L312.55 158.33" fill="none" stroke="#2a2a2a" stroke-width="0.7"/>
<path d="M327.55 158.83 L330.05 161.33 M327.55 161.33 L330.05 158.83" fill="none" stroke="#2a2a2a" stroke-width="0.7"/>
<path d="M257.00 123.52 L275.80 146.05 L292.90 158.57 L311.30 159.58 L328.80 160.58" fill="none" stroke="#2a2a2a" stroke-width="1.0" stroke-dasharray="4.5 1.3 1 1.3 1 1.3"/>
<circle cx="257.00" cy="123.52" r="1.25" fill="#fff" stroke="#2a2a2a" stroke-width="0.6"/>
<circle cx="275.80" cy="146.05" r="1.25" fill="#fff" stroke="#2a2a2a" stroke-width="0.6"/>
<circle cx="292.90" cy="158.57" r="1.25" fill="#fff" stroke="#2a2a2a" stroke-width="0.6"/>
<circle cx="311.30" cy="159.58" r="1.25" fill="#fff" stroke="#2a2a2a" stroke-width="0.6"/>
<circle cx="328.80" cy="160.58" r="1.25" fill="#fff" stroke="#2a2a2a" stroke-width="0.6"/>
<path d="M257.00 123.52 L275.80 127.52 L292.90 128.02 L311.30 134.53 L328.80 148.56" fill="none" stroke="#2a2a2a" stroke-width="0.9" stroke-dasharray="1.8 1"/>
<path d="M255.75 123.52 L258.25 123.52 M257.00 122.27 L257.00 124.77" fill="none" stroke="#2a2a2a" stroke-width="0.7"/>
<path d="M274.55 127.52 L277.05 127.52 M275.80 126.27 L275.80 128.77" fill="none" stroke="#2a2a2a" stroke-width="0.7"/>
<path d="M291.65 128.02 L294.15 128.02 M292.90 126.77 L292.90 129.27" fill="none" stroke="#2a2a2a" stroke-width="0.7"/>
<path d="M310.05 134.53 L312.55 134.53 M311.30 133.28 L311.30 135.78" fill="none" stroke="#2a2a2a" stroke-width="0.7"/>
<path d="M327.55 148.56 L330.05 148.56 M328.80 147.31 L328.80 149.81" fill="none" stroke="#2a2a2a" stroke-width="0.7"/>
<line x1="339.8" y1="116.80" x2="354.2" y2="116.80" stroke="#222" stroke-width="0.9"/>
<circle cx="347.00" cy="116.80" r="1.15" fill="#fff" stroke="#222" stroke-width="0.6"/>
<text x="355.80" y="119.86" font-size="8.5" text-anchor="start" fill="#1a1a1a">DMSO</text>
<line x1="339.8" y1="127.70" x2="354.2" y2="127.70" stroke="#2a2a2a" stroke-width="1.0" stroke-dasharray="4.5 1.5 1.2 1.5"/>
<path d="M345.85 126.55 L348.15 128.85 M345.85 128.85 L348.15 126.55" fill="none" stroke="#2a2a2a" stroke-width="0.7"/>
<text x="355.80" y="130.76" font-size="8.5" text-anchor="start" fill="#1a1a1a">CH-4</text>
<line x1="339.8" y1="137.30" x2="354.2" y2="137.30" stroke="#2a2a2a" stroke-width="1.0" stroke-dasharray="4.5 1.3 1 1.3 1 1.3"/>
<circle cx="347.00" cy="137.30" r="1.15" fill="#fff" stroke="#2a2a2a" stroke-width="0.6"/>
<text x="355.80" y="140.36" font-size="8.5" text-anchor="start" fill="#1a1a1a">CH-5</text>
<line x1="339.8" y1="146.10" x2="354.2" y2="146.10" stroke="#2a2a2a" stroke-width="0.9" stroke-dasharray="1.8 1"/>
<path d="M345.85 146.10 L348.15 146.10 M347.00 144.95 L347.00 147.25" fill="none" stroke="#2a2a2a" stroke-width="0.7"/>
<text x="355.80" y="149.16" font-size="8.5" text-anchor="start" fill="#1a1a1a">CH-6</text>
<text x="215.10" y="193.40" font-size="8.5" text-anchor="start" fill="#1a1a1a" transform="rotate(-90 215.1 193.4)">Cell viability</text>
<text x="224.90" y="193.40" font-size="8.5" text-anchor="start" fill="#1a1a1a" transform="rotate(-90 224.9 193.4)">(fold of percentage, %)</text>
<line x1="58.80" y1="248.90" x2="58.80" y2="319.50" stroke="#3a3a3a" stroke-width="0.75"/>
<line x1="58.40" y1="319.10" x2="151.00" y2="319.10" stroke="#3a3a3a" stroke-width="0.75"/>
<line x1="57.20" y1="313.30" x2="58.80" y2="313.30" stroke="#444" stroke-width="0.5"/>
<line x1="57.20" y1="302.65" x2="58.80" y2="302.65" stroke="#444" stroke-width="0.5"/>
<line x1="57.20" y1="292.00" x2="58.80" y2="292.00" stroke="#444" stroke-width="0.5"/>
<line x1="57.20" y1="281.35" x2="58.80" y2="281.35" stroke="#444" stroke-width="0.5"/>
<line x1="57.20" y1="270.70" x2="58.80" y2="270.70" stroke="#444" stroke-width="0.5"/>
<line x1="57.20" y1="260.05" x2="58.80" y2="260.05" stroke="#444" stroke-width="0.5"/>
<line x1="57.20" y1="249.40" x2="58.80" y2="249.40" stroke="#444" stroke-width="0.5"/>
<line x1="76.90" y1="319.10" x2="76.90" y2="320.70" stroke="#444" stroke-width="0.5"/>
<line x1="95.65" y1="319.10" x2="95.65" y2="320.70" stroke="#444" stroke-width="0.5"/>
<line x1="114.50" y1="319.10" x2="114.50" y2="320.70" stroke="#444" stroke-width="0.5"/>
<line x1="133.00" y1="319.10" x2="133.00" y2="320.70" stroke="#444" stroke-width="0.5"/>
<line x1="151.00" y1="319.10" x2="151.00" y2="320.70" stroke="#444" stroke-width="0.5"/>
<text x="56.20" y="316.96" font-size="8.5" text-anchor="end" fill="#1a1a1a">0</text>
<text x="56.20" y="306.31" font-size="8.5" text-anchor="end" fill="#1a1a1a">20</text>
<text x="56.20" y="295.66" font-size="8.5" text-anchor="end" fill="#1a1a1a">40</text>
<text x="56.20" y="285.01" font-size="8.5" text-anchor="end" fill="#1a1a1a">60</text>
<text x="56.20" y="274.36" font-size="8.5" text-anchor="end" fill="#1a1a1a">80</text>
<text x="56.20" y="263.71" font-size="8.5" text-anchor="end" fill="#1a1a1a">100</text>
<text x="56.20" y="253.06" font-size="8.5" text-anchor="end" fill="#1a1a1a">120</text>
<text x="69.70" y="329.26" font-size="8.5" text-anchor="middle" fill="#1a1a1a">0</text>
<text x="86.30" y="329.26" font-size="8.5" text-anchor="middle" fill="#1a1a1a">10</text>
<text x="105.00" y="329.26" font-size="8.5" text-anchor="middle" fill="#1a1a1a">20</text>
<text x="124.00" y="329.26" font-size="8.5" text-anchor="middle" fill="#1a1a1a">40</text>
<text x="142.00" y="329.26" font-size="8.5" text-anchor="middle" fill="#1a1a1a">80</text>
<text x="151.50" y="329.26" font-size="8.5" text-anchor="start" fill="#1a1a1a">(µM)</text>
<line x1="86.30" y1="258.11" x2="86.30" y2="267.41" stroke="#777" stroke-width="0.6"/>
<line x1="84.90" y1="258.11" x2="87.70" y2="258.11" stroke="#777" stroke-width="0.6"/>
<line x1="84.90" y1="267.41" x2="87.70" y2="267.41" stroke="#777" stroke-width="0.6"/>
<line x1="105.00" y1="261.60" x2="105.00" y2="270.89" stroke="#777" stroke-width="0.6"/>
<line x1="103.60" y1="261.60" x2="106.40" y2="261.60" stroke="#777" stroke-width="0.6"/>
<line x1="103.60" y1="270.89" x2="106.40" y2="270.89" stroke="#777" stroke-width="0.6"/>
<line x1="124.00" y1="263.34" x2="124.00" y2="271.47" stroke="#777" stroke-width="0.6"/>
<line x1="122.60" y1="263.34" x2="125.40" y2="263.34" stroke="#777" stroke-width="0.6"/>
<line x1="122.60" y1="271.47" x2="125.40" y2="271.47" stroke="#777" stroke-width="0.6"/>
<line x1="86.30" y1="264.50" x2="86.30" y2="271.47" stroke="#777" stroke-width="0.6"/>
<line x1="84.90" y1="264.50" x2="87.70" y2="264.50" stroke="#777" stroke-width="0.6"/>
<line x1="84.90" y1="271.47" x2="87.70" y2="271.47" stroke="#777" stroke-width="0.6"/>
<line x1="105.00" y1="261.02" x2="105.00" y2="272.63" stroke="#777" stroke-width="0.6"/>
<line x1="103.60" y1="261.02" x2="106.40" y2="261.02" stroke="#777" stroke-width="0.6"/>
<line x1="103.60" y1="272.63" x2="106.40" y2="272.63" stroke="#777" stroke-width="0.6"/>
<line x1="124.00" y1="265.08" x2="124.00" y2="274.38" stroke="#777" stroke-width="0.6"/>
<line x1="122.60" y1="265.08" x2="125.40" y2="265.08" stroke="#777" stroke-width="0.6"/>
<line x1="122.60" y1="274.38" x2="125.40" y2="274.38" stroke="#777" stroke-width="0.6"/>
<line x1="142.00" y1="259.27" x2="142.00" y2="277.86" stroke="#777" stroke-width="0.6"/>
<line x1="140.60" y1="259.27" x2="143.40" y2="259.27" stroke="#777" stroke-width="0.6"/>
<line x1="140.60" y1="277.86" x2="143.40" y2="277.86" stroke="#777" stroke-width="0.6"/>
<line x1="86.30" y1="263.34" x2="86.30" y2="270.31" stroke="#777" stroke-width="0.6"/>
<line x1="84.90" y1="263.34" x2="87.70" y2="263.34" stroke="#777" stroke-width="0.6"/>
<line x1="84.90" y1="270.31" x2="87.70" y2="270.31" stroke="#777" stroke-width="0.6"/>
<line x1="105.00" y1="266.83" x2="105.00" y2="276.12" stroke="#777" stroke-width="0.6"/>
<line x1="103.60" y1="266.83" x2="106.40" y2="266.83" stroke="#777" stroke-width="0.6"/>
<line x1="103.60" y1="276.12" x2="106.40" y2="276.12" stroke="#777" stroke-width="0.6"/>
<line x1="124.00" y1="266.82" x2="124.00" y2="278.44" stroke="#777" stroke-width="0.6"/>
<line x1="122.60" y1="266.82" x2="125.40" y2="266.82" stroke="#777" stroke-width="0.6"/>
<line x1="122.60" y1="278.44" x2="125.40" y2="278.44" stroke="#777" stroke-width="0.6"/>
<line x1="142.00" y1="270.89" x2="142.00" y2="280.18" stroke="#777" stroke-width="0.6"/>
<line x1="140.60" y1="270.89" x2="143.40" y2="270.89" stroke="#777" stroke-width="0.6"/>
<line x1="140.60" y1="280.18" x2="143.40" y2="280.18" stroke="#777" stroke-width="0.6"/>
<line x1="86.30" y1="270.31" x2="86.30" y2="274.96" stroke="#777" stroke-width="0.6"/>
<line x1="84.90" y1="270.31" x2="87.70" y2="270.31" stroke="#777" stroke-width="0.6"/>
<line x1="84.90" y1="274.96" x2="87.70" y2="274.96" stroke="#777" stroke-width="0.6"/>
<line x1="105.00" y1="260.44" x2="105.00" y2="285.99" stroke="#777" stroke-width="0.6"/>
<line x1="103.60" y1="260.44" x2="106.40" y2="260.44" stroke="#777" stroke-width="0.6"/>
<line x1="103.60" y1="285.99" x2="106.40" y2="285.99" stroke="#777" stroke-width="0.6"/>
<line x1="124.00" y1="262.18" x2="124.00" y2="287.74" stroke="#777" stroke-width="0.6"/>
<line x1="122.60" y1="262.18" x2="125.40" y2="262.18" stroke="#777" stroke-width="0.6"/>
<line x1="122.60" y1="287.74" x2="125.40" y2="287.74" stroke="#777" stroke-width="0.6"/>
<line x1="142.00" y1="267.41" x2="142.00" y2="287.15" stroke="#777" stroke-width="0.6"/>
<line x1="140.60" y1="267.41" x2="143.40" y2="267.41" stroke="#777" stroke-width="0.6"/>
<line x1="140.60" y1="287.15" x2="143.40" y2="287.15" stroke="#777" stroke-width="0.6"/>
<path d="M67.50 261.02 L86.30 262.76 L105.00 266.24 L124.00 267.41 L142.00 269.73" fill="none" stroke="#222" stroke-width="0.9"/>
<circle cx="67.50" cy="261.02" r="1.60" fill="#fff" stroke="#222" stroke-width="0.6"/>
<circle cx="86.30" cy="262.76" r="1.60" fill="#fff" stroke="#222" stroke-width="0.6"/>
<circle cx="105.00" cy="266.24" r="1.60" fill="#fff" stroke="#222" stroke-width="0.6"/>
<circle cx="124.00" cy="267.41" r="1.60" fill="#fff" stroke="#222" stroke-width="0.6"/>
<circle cx="142.00" cy="269.73" r="1.60" fill="#fff" stroke="#222" stroke-width="0.6"/>
<path d="M67.50 261.02 L86.30 267.99 L105.00 266.83 L124.00 269.73 L142.00 268.57" fill="none" stroke="#a0a0a0" stroke-width="0.6"/>
<path d="M65.90 259.42 L69.10 262.62 M65.90 262.62 L69.10 259.42 M67.50 259.42 L67.50 262.62" fill="none" stroke="#222" stroke-width="0.75"/>
<path d="M84.70 266.39 L87.90 269.59 M84.70 269.59 L87.90 266.39 M86.30 266.39 L86.30 269.59" fill="none" stroke="#222" stroke-width="0.75"/>
<path d="M103.40 265.23 L106.60 268.43 M103.40 268.43 L106.60 265.23 M105.00 265.23 L105.00 268.43" fill="none" stroke="#222" stroke-width="0.75"/>
<path d="M122.40 268.13 L125.60 271.33 M122.40 271.33 L125.60 268.13 M124.00 268.13 L124.00 271.33" fill="none" stroke="#222" stroke-width="0.75"/>
<path d="M140.40 266.97 L143.60 270.17 M140.40 270.17 L143.60 266.97 M142.00 266.97 L142.00 270.17" fill="none" stroke="#222" stroke-width="0.75"/>
<path d="M67.50 261.02 L86.30 266.83 L105.00 271.47 L124.00 272.63 L142.00 275.54" fill="none" stroke="#2a2a2a" stroke-width="0.95" stroke-dasharray="2 1.1"/>
<path d="M67.50 259.42 L69.10 262.30 L65.90 262.30 Z" fill="#fff" stroke="#2a2a2a" stroke-width="0.6"/>
<path d="M86.30 265.23 L87.90 268.11 L84.70 268.11 Z" fill="#fff" stroke="#2a2a2a" stroke-width="0.6"/>
<path d="M105.00 269.87 L106.60 272.75 L103.40 272.75 Z" fill="#fff" stroke="#2a2a2a" stroke-width="0.6"/>
<path d="M124.00 271.03 L125.60 273.91 L122.40 273.91 Z" fill="#fff" stroke="#2a2a2a" stroke-width="0.6"/>
<path d="M142.00 273.94 L143.60 276.82 L140.40 276.82 Z" fill="#fff" stroke="#2a2a2a" stroke-width="0.6"/>
<path d="M67.50 261.02 L86.30 272.63 L105.00 273.21 L124.00 274.96 L142.00 277.28" fill="none" stroke="#2a2a2a" stroke-width="0.95" stroke-dasharray="4.2 1.8"/>
<rect x="65.90" y="259.42" width="3.20" height="3.20" fill="#fff" stroke="#2a2a2a" stroke-width="0.6"/>
<rect x="84.70" y="271.03" width="3.20" height="3.20" fill="#fff" stroke="#2a2a2a" stroke-width="0.6"/>
<rect x="103.40" y="271.61" width="3.20" height="3.20" fill="#fff" stroke="#2a2a2a" stroke-width="0.6"/>
<rect x="122.40" y="273.36" width="3.20" height="3.20" fill="#fff" stroke="#2a2a2a" stroke-width="0.6"/>
<rect x="140.40" y="275.68" width="3.20" height="3.20" fill="#fff" stroke="#2a2a2a" stroke-width="0.6"/>
<text x="102.50" y="250.80" font-size="8.5" text-anchor="middle" fill="#1a1a1a">KG-1 cells</text>
<line x1="156" y1="249.00" x2="171" y2="249.00" stroke="#222" stroke-width="0.9"/>
<circle cx="163.50" cy="249.00" r="1.15" fill="#fff" stroke="#222" stroke-width="0.6"/>
<text x="175.80" y="252.06" font-size="8.5" text-anchor="start" fill="#1a1a1a">DMSO</text>
<line x1="156" y1="260.00" x2="171" y2="260.00" stroke="#a0a0a0" stroke-width="0.6"/>
<path d="M161.80 258.30 L165.20 261.70 M161.80 261.70 L165.20 258.30 M163.50 258.30 L163.50 261.70" fill="none" stroke="#222" stroke-width="0.75"/>
<text x="175.80" y="263.06" font-size="8.5" text-anchor="start" fill="#1a1a1a">CH-1</text>
<line x1="156" y1="271.50" x2="171" y2="271.50" stroke="#2a2a2a" stroke-width="0.95" stroke-dasharray="2 1.1"/>
<path d="M163.50 270.35 L164.65 272.42 L162.35 272.42 Z" fill="#fff" stroke="#2a2a2a" stroke-width="0.6"/>
<text x="175.80" y="274.56" font-size="8.5" text-anchor="start" fill="#1a1a1a">CH-2</text>
<line x1="156" y1="282.40" x2="171" y2="282.40" stroke="#2a2a2a" stroke-width="0.95" stroke-dasharray="4.2 1.8"/>
<rect x="162.35" y="281.25" width="2.30" height="2.30" fill="#fff" stroke="#2a2a2a" stroke-width="0.6"/>
<text x="175.80" y="285.46" font-size="8.5" text-anchor="start" fill="#1a1a1a">CH-3</text>
<text x="28.30" y="330.50" font-size="8.5" text-anchor="start" fill="#1a1a1a" transform="rotate(-90 28.3 330.5)">Cell viability</text>
<text x="39.30" y="330.50" font-size="8.5" text-anchor="start" fill="#1a1a1a" transform="rotate(-90 39.3 330.5)">(fold of percentage, %)</text>
<line x1="58.80" y1="362.80" x2="58.80" y2="433.30" stroke="#3a3a3a" stroke-width="0.75"/>
<line x1="58.40" y1="432.90" x2="151.00" y2="432.90" stroke="#3a3a3a" stroke-width="0.75"/>
<line x1="57.20" y1="425.70" x2="58.80" y2="425.70" stroke="#444" stroke-width="0.5"/>
<line x1="57.20" y1="415.08" x2="58.80" y2="415.08" stroke="#444" stroke-width="0.5"/>
<line x1="57.20" y1="404.46" x2="58.80" y2="404.46" stroke="#444" stroke-width="0.5"/>
<line x1="57.20" y1="393.84" x2="58.80" y2="393.84" stroke="#444" stroke-width="0.5"/>
<line x1="57.20" y1="383.22" x2="58.80" y2="383.22" stroke="#444" stroke-width="0.5"/>
<line x1="57.20" y1="372.60" x2="58.80" y2="372.60" stroke="#444" stroke-width="0.5"/>
<line x1="57.20" y1="361.98" x2="58.80" y2="361.98" stroke="#444" stroke-width="0.5"/>
<line x1="76.90" y1="432.90" x2="76.90" y2="434.50" stroke="#444" stroke-width="0.5"/>
<line x1="95.65" y1="432.90" x2="95.65" y2="434.50" stroke="#444" stroke-width="0.5"/>
<line x1="114.50" y1="432.90" x2="114.50" y2="434.50" stroke="#444" stroke-width="0.5"/>
<line x1="133.00" y1="432.90" x2="133.00" y2="434.50" stroke="#444" stroke-width="0.5"/>
<line x1="151.00" y1="432.90" x2="151.00" y2="434.50" stroke="#444" stroke-width="0.5"/>
<text x="56.50" y="429.36" font-size="8.5" text-anchor="end" fill="#1a1a1a">0</text>
<text x="56.50" y="418.74" font-size="8.5" text-anchor="end" fill="#1a1a1a">20</text>
<text x="56.50" y="408.12" font-size="8.5" text-anchor="end" fill="#1a1a1a">40</text>
<text x="56.50" y="397.50" font-size="8.5" text-anchor="end" fill="#1a1a1a">60</text>
<text x="56.50" y="386.88" font-size="8.5" text-anchor="end" fill="#1a1a1a">80</text>
<text x="56.50" y="376.26" font-size="8.5" text-anchor="end" fill="#1a1a1a">100</text>
<text x="56.50" y="365.64" font-size="8.5" text-anchor="end" fill="#1a1a1a">120</text>
<text x="71.00" y="443.46" font-size="8.5" text-anchor="middle" fill="#1a1a1a">0</text>
<text x="87.50" y="443.46" font-size="8.5" text-anchor="middle" fill="#1a1a1a">10</text>
<text x="106.00" y="443.46" font-size="8.5" text-anchor="middle" fill="#1a1a1a">20</text>
<text x="125.50" y="443.46" font-size="8.5" text-anchor="middle" fill="#1a1a1a">40</text>
<text x="142.50" y="443.46" font-size="8.5" text-anchor="middle" fill="#1a1a1a">80</text>
<text x="152.00" y="443.46" font-size="8.5" text-anchor="start" fill="#1a1a1a">(µM)</text>
<line x1="86.30" y1="374.32" x2="86.30" y2="378.96" stroke="#777" stroke-width="0.6"/>
<line x1="84.90" y1="374.32" x2="87.70" y2="374.32" stroke="#777" stroke-width="0.6"/>
<line x1="84.90" y1="378.96" x2="87.70" y2="378.96" stroke="#777" stroke-width="0.6"/>
<line x1="105.00" y1="374.90" x2="105.00" y2="384.18" stroke="#777" stroke-width="0.6"/>
<line x1="103.60" y1="374.90" x2="106.40" y2="374.90" stroke="#777" stroke-width="0.6"/>
<line x1="103.60" y1="384.18" x2="106.40" y2="384.18" stroke="#777" stroke-width="0.6"/>
<line x1="124.00" y1="379.54" x2="124.00" y2="381.86" stroke="#777" stroke-width="0.6"/>
<line x1="122.60" y1="379.54" x2="125.40" y2="379.54" stroke="#777" stroke-width="0.6"/>
<line x1="122.60" y1="381.86" x2="125.40" y2="381.86" stroke="#777" stroke-width="0.6"/>
<line x1="142.00" y1="382.44" x2="142.00" y2="384.76" stroke="#777" stroke-width="0.6"/>
<line x1="140.60" y1="382.44" x2="143.40" y2="382.44" stroke="#777" stroke-width="0.6"/>
<line x1="140.60" y1="384.76" x2="143.40" y2="384.76" stroke="#777" stroke-width="0.6"/>
<line x1="86.30" y1="374.32" x2="86.30" y2="381.28" stroke="#777" stroke-width="0.6"/>
<line x1="84.90" y1="374.32" x2="87.70" y2="374.32" stroke="#777" stroke-width="0.6"/>
<line x1="84.90" y1="381.28" x2="87.70" y2="381.28" stroke="#777" stroke-width="0.6"/>
<line x1="105.00" y1="410.86" x2="105.00" y2="416.66" stroke="#777" stroke-width="0.6"/>
<line x1="103.60" y1="410.86" x2="106.40" y2="410.86" stroke="#777" stroke-width="0.6"/>
<line x1="103.60" y1="416.66" x2="106.40" y2="416.66" stroke="#777" stroke-width="0.6"/>
<line x1="124.00" y1="417.82" x2="124.00" y2="421.30" stroke="#777" stroke-width="0.6"/>
<line x1="122.60" y1="417.82" x2="125.40" y2="417.82" stroke="#777" stroke-width="0.6"/>
<line x1="122.60" y1="421.30" x2="125.40" y2="421.30" stroke="#777" stroke-width="0.6"/>
<line x1="142.00" y1="414.34" x2="142.00" y2="424.78" stroke="#777" stroke-width="0.6"/>
<line x1="140.60" y1="414.34" x2="143.40" y2="414.34" stroke="#777" stroke-width="0.6"/>
<line x1="140.60" y1="424.78" x2="143.40" y2="424.78" stroke="#777" stroke-width="0.6"/>
<line x1="86.30" y1="403.32" x2="86.30" y2="413.76" stroke="#777" stroke-width="0.6"/>
<line x1="84.90" y1="403.32" x2="87.70" y2="403.32" stroke="#777" stroke-width="0.6"/>
<line x1="84.90" y1="413.76" x2="87.70" y2="413.76" stroke="#777" stroke-width="0.6"/>
<line x1="105.00" y1="415.50" x2="105.00" y2="418.98" stroke="#777" stroke-width="0.6"/>
<line x1="103.60" y1="415.50" x2="106.40" y2="415.50" stroke="#777" stroke-width="0.6"/>
<line x1="103.60" y1="418.98" x2="106.40" y2="418.98" stroke="#777" stroke-width="0.6"/>
<line x1="124.00" y1="418.40" x2="124.00" y2="421.88" stroke="#777" stroke-width="0.6"/>
<line x1="122.60" y1="418.40" x2="125.40" y2="418.40" stroke="#777" stroke-width="0.6"/>
<line x1="122.60" y1="421.88" x2="125.40" y2="421.88" stroke="#777" stroke-width="0.6"/>
<line x1="142.00" y1="415.50" x2="142.00" y2="424.78" stroke="#777" stroke-width="0.6"/>
<line x1="140.60" y1="415.50" x2="143.40" y2="415.50" stroke="#777" stroke-width="0.6"/>
<line x1="140.60" y1="424.78" x2="143.40" y2="424.78" stroke="#777" stroke-width="0.6"/>
<line x1="86.30" y1="374.90" x2="86.30" y2="384.18" stroke="#777" stroke-width="0.6"/>
<line x1="84.90" y1="374.90" x2="87.70" y2="374.90" stroke="#777" stroke-width="0.6"/>
<line x1="84.90" y1="384.18" x2="87.70" y2="384.18" stroke="#777" stroke-width="0.6"/>
<line x1="105.00" y1="378.38" x2="105.00" y2="394.62" stroke="#777" stroke-width="0.6"/>
<line x1="103.60" y1="378.38" x2="106.40" y2="378.38" stroke="#777" stroke-width="0.6"/>
<line x1="103.60" y1="394.62" x2="106.40" y2="394.62" stroke="#777" stroke-width="0.6"/>
<line x1="124.00" y1="397.52" x2="124.00" y2="404.48" stroke="#777" stroke-width="0.6"/>
<line x1="122.60" y1="397.52" x2="125.40" y2="397.52" stroke="#777" stroke-width="0.6"/>
<line x1="122.60" y1="404.48" x2="125.40" y2="404.48" stroke="#777" stroke-width="0.6"/>
<line x1="142.00" y1="397.52" x2="142.00" y2="410.28" stroke="#777" stroke-width="0.6"/>
<line x1="140.60" y1="397.52" x2="143.40" y2="397.52" stroke="#777" stroke-width="0.6"/>
<line x1="140.60" y1="410.28" x2="143.40" y2="410.28" stroke="#777" stroke-width="0.6"/>
<path d="M67.50 374.90 L86.30 376.64 L105.00 379.54 L124.00 380.70 L142.00 383.60" fill="none" stroke="#222" stroke-width="0.9"/>
<circle cx="67.50" cy="374.90" r="1.25" fill="#fff" stroke="#222" stroke-width="0.6"/>
<circle cx="86.30" cy="376.64" r="1.25" fill="#fff" stroke="#222" stroke-width="0.6"/>
<circle cx="105.00" cy="379.54" r="1.25" fill="#fff" stroke="#222" stroke-width="0.6"/>
<circle cx="124.00" cy="380.70" r="1.25" fill="#fff" stroke="#222" stroke-width="0.6"/>
<circle cx="142.00" cy="383.60" r="1.25" fill="#fff" stroke="#222" stroke-width="0.6"/>
<path d="M67.50 374.90 L86.30 377.80 L105.00 413.76 L124.00 419.56 L142.00 419.56" fill="none" stroke="#2a2a2a" stroke-width="1.0" stroke-dasharray="4.5 1.5 1.2 1.5"/>
<path d="M66.25 373.65 L68.75 376.15 M66.25 376.15 L68.75 373.65" fill="none" stroke="#2a2a2a" stroke-width="0.7"/>
<path d="M85.05 376.55 L87.55 379.05 M85.05 379.05 L87.55 376.55" fill="none" stroke="#2a2a2a" stroke-width="0.7"/>
<path d="M103.75 412.51 L106.25 415.01 M103.75 415.01 L106.25 412.51" fill="none" stroke="#2a2a2a" stroke-width="0.7"/>
<path d="M122.75 418.31 L125.25 420.81 M122.75 420.81 L125.25 418.31" fill="none" stroke="#2a2a2a" stroke-width="0.7"/>
<path d="M140.75 418.31 L143.25 420.81 M140.75 420.81 L143.25 418.31" fill="none" stroke="#2a2a2a" stroke-width="0.7"/>
<path d="M67.50 374.90 L86.30 408.54 L105.00 417.24 L124.00 420.14 L142.00 420.14" fill="none" stroke="#2a2a2a" stroke-width="1.0" stroke-dasharray="4.5 1.3 1 1.3 1 1.3"/>
<circle cx="67.50" cy="374.90" r="1.25" fill="#fff" stroke="#2a2a2a" stroke-width="0.6"/>
<circle cx="86.30" cy="408.54" r="1.25" fill="#fff" stroke="#2a2a2a" stroke-width="0.6"/>
<circle cx="105.00" cy="417.24" r="1.25" fill="#fff" stroke="#2a2a2a" stroke-width="0.6"/>
<circle cx="124.00" cy="420.14" r="1.25" fill="#fff" stroke="#2a2a2a" stroke-width="0.6"/>
<circle cx="142.00" cy="420.14" r="1.25" fill="#fff" stroke="#2a2a2a" stroke-width="0.6"/>
<path d="M67.50 374.90 L86.30 379.54 L105.00 386.50 L124.00 401.00 L142.00 403.90" fill="none" stroke="#2a2a2a" stroke-width="0.9" stroke-dasharray="1.8 1"/>
<path d="M66.25 374.90 L68.75 374.90 M67.50 373.65 L67.50 376.15" fill="none" stroke="#2a2a2a" stroke-width="0.7"/>
<path d="M85.05 379.54 L87.55 379.54 M86.30 378.29 L86.30 380.79" fill="none" stroke="#2a2a2a" stroke-width="0.7"/>
<path d="M103.75 386.50 L106.25 386.50 M105.00 385.25 L105.00 387.75" fill="none" stroke="#2a2a2a" stroke-width="0.7"/>
<path d="M122.75 401.00 L125.25 401.00 M124.00 399.75 L124.00 402.25" fill="none" stroke="#2a2a2a" stroke-width="0.7"/>
<path d="M140.75 403.90 L143.25 403.90 M142.00 402.65 L142.00 405.15" fill="none" stroke="#2a2a2a" stroke-width="0.7"/>
<line x1="158" y1="366.00" x2="172.6" y2="366.00" stroke="#222" stroke-width="0.9"/>
<circle cx="165.30" cy="366.00" r="1.15" fill="#fff" stroke="#222" stroke-width="0.6"/>
<text x="174.20" y="369.06" font-size="8.5" text-anchor="start" fill="#1a1a1a">DMSO</text>
<line x1="158" y1="377.00" x2="172.6" y2="377.00" stroke="#2a2a2a" stroke-width="1.0" stroke-dasharray="4.5 1.5 1.2 1.5"/>
<path d="M164.15 375.85 L166.45 378.15 M164.15 378.15 L166.45 375.85" fill="none" stroke="#2a2a2a" stroke-width="0.7"/>
<text x="174.20" y="380.06" font-size="8.5" text-anchor="start" fill="#1a1a1a">CH-4</text>
<line x1="158" y1="387.70" x2="172.6" y2="387.70" stroke="#2a2a2a" stroke-width="1.0" stroke-dasharray="4.5 1.3 1 1.3 1 1.3"/>
<circle cx="165.30" cy="387.70" r="1.15" fill="#fff" stroke="#2a2a2a" stroke-width="0.6"/>
<text x="174.20" y="390.76" font-size="8.5" text-anchor="start" fill="#1a1a1a">CH-5</text>
<line x1="158" y1="397.00" x2="172.6" y2="397.00" stroke="#2a2a2a" stroke-width="0.9" stroke-dasharray="1.8 1"/>
<path d="M164.15 397.00 L166.45 397.00 M165.30 395.85 L165.30 398.15" fill="none" stroke="#2a2a2a" stroke-width="0.7"/>
<text x="174.20" y="400.06" font-size="8.5" text-anchor="start" fill="#1a1a1a">CH-6</text>
<text x="25.40" y="445.00" font-size="8.5" text-anchor="start" fill="#1a1a1a" transform="rotate(-90 25.4 445)">Cell viability</text>
<text x="36.40" y="445.00" font-size="8.5" text-anchor="start" fill="#1a1a1a" transform="rotate(-90 36.4 445)">(fold of percentage, %)</text>
<line x1="428.60" y1="50.50" x2="428.60" y2="162.30" stroke="#333" stroke-width="0.7"/>
<line x1="428.60" y1="162.30" x2="669.00" y2="162.30" stroke="#333" stroke-width="0.7"/>
<text x="422.40" y="165.60" font-size="9.4" text-anchor="end" fill="#1a1a1a">0</text>
<line x1="426.60" y1="162.30" x2="428.60" y2="162.30" stroke="#333" stroke-width="0.6"/>
<text x="422.40" y="147.00" font-size="9.4" text-anchor="end" fill="#1a1a1a">0.5</text>
<line x1="426.60" y1="143.70" x2="428.60" y2="143.70" stroke="#333" stroke-width="0.6"/>
<text x="422.40" y="128.40" font-size="9.4" text-anchor="end" fill="#1a1a1a">1</text>
<line x1="426.60" y1="125.10" x2="428.60" y2="125.10" stroke="#333" stroke-width="0.6"/>
<text x="422.40" y="109.80" font-size="9.4" text-anchor="end" fill="#1a1a1a">1.5</text>
<line x1="426.60" y1="106.50" x2="428.60" y2="106.50" stroke="#333" stroke-width="0.6"/>
<text x="422.40" y="91.20" font-size="9.4" text-anchor="end" fill="#1a1a1a">2</text>
<line x1="426.60" y1="87.90" x2="428.60" y2="87.90" stroke="#333" stroke-width="0.6"/>
<text x="422.40" y="72.60" font-size="9.4" text-anchor="end" fill="#1a1a1a">2.5</text>
<line x1="426.60" y1="69.30" x2="428.60" y2="69.30" stroke="#333" stroke-width="0.6"/>
<text x="422.40" y="54.00" font-size="9.4" text-anchor="end" fill="#1a1a1a">3</text>
<line x1="426.60" y1="50.70" x2="428.60" y2="50.70" stroke="#333" stroke-width="0.6"/>
<text x="404.20" y="164.00" font-size="8.5" text-anchor="start" fill="#1a1a1a" transform="rotate(-90 404.2 164)">Relative luciferase units (RLU)</text>
<defs>
<pattern id="pNeg" width="1.6" height="4" patternUnits="userSpaceOnUse"><rect width="1.6" height="4" fill="#c4c4c4"/><rect x="0" width="0.5" height="4" fill="#b0b0b0"/></pattern>
<pattern id="pCH1" width="3" height="3" patternUnits="userSpaceOnUse"><rect width="3" height="3" fill="#fff"/><rect x="0.3" y="0.3" width="0.75" height="0.75" fill="#7a7a7a"/><rect x="1.8" y="1.8" width="0.75" height="0.75" fill="#7a7a7a"/></pattern>
<pattern id="pCH2" width="1.7" height="4" patternUnits="userSpaceOnUse"><rect width="1.7" height="4" fill="#cfcfcf"/><rect x="0" width="0.6" height="4" fill="#a6a6a6"/></pattern>
<pattern id="pCH3" width="1.6" height="1.6" patternUnits="userSpaceOnUse"><rect width="1.6" height="1.6" fill="#d8d8d8"/><rect x="0" y="0" width="0.8" height="0.8" fill="#8c8c8c"/><rect x="0.8" y="0.8" width="0.8" height="0.8" fill="#8c8c8c"/></pattern>
<pattern id="pCH5" width="3.4" height="3.0" patternUnits="userSpaceOnUse"><rect width="3.4" height="3.0" fill="#fff"/><rect x="0.2" y="0.4" width="1.6" height="0.7" fill="#5a5a5a"/><rect x="1.9" y="1.9" width="1.6" height="0.7" fill="#5a5a5a"/></pattern>
<pattern id="pCH6" width="2.4" height="2.4" patternUnits="userSpaceOnUse"><rect width="2.4" height="2.4" fill="#ededed"/><path d="M0 0 L2.4 2.4 M2.4 0 L0 2.4" stroke="#666" stroke-width="0.36"/></pattern>
</defs>
<rect x="429.90" y="125.10" width="6.75" height="37.20" fill="#fff" stroke="#1c1c1c" stroke-width="0.7"/>
<rect x="436.65" y="114.31" width="6.75" height="47.99" fill="#fff" stroke="#1c1c1c" stroke-width="0.7"/>
<rect x="443.40" y="103.52" width="6.75" height="58.78" fill="#fff" stroke="#1c1c1c" stroke-width="0.7"/>
<rect x="450.15" y="64.46" width="6.75" height="97.84" fill="#fff" stroke="#1c1c1c" stroke-width="0.7"/>
<line x1="440.02" y1="105.76" x2="440.02" y2="122.87" stroke="#8a8a8a" stroke-width="0.7"/>
<line x1="438.52" y1="105.76" x2="441.52" y2="105.76" stroke="#8a8a8a" stroke-width="0.7"/>
<line x1="438.52" y1="122.87" x2="441.52" y2="122.87" stroke="#8a8a8a" stroke-width="0.7"/>
<line x1="446.77" y1="94.60" x2="446.77" y2="112.45" stroke="#8a8a8a" stroke-width="0.7"/>
<line x1="445.27" y1="94.60" x2="448.27" y2="94.60" stroke="#8a8a8a" stroke-width="0.7"/>
<line x1="445.27" y1="112.45" x2="448.27" y2="112.45" stroke="#8a8a8a" stroke-width="0.7"/>
<line x1="453.52" y1="59.63" x2="453.52" y2="69.30" stroke="#8a8a8a" stroke-width="0.7"/>
<line x1="452.02" y1="59.63" x2="455.02" y2="59.63" stroke="#8a8a8a" stroke-width="0.7"/>
<line x1="452.02" y1="69.30" x2="455.02" y2="69.30" stroke="#8a8a8a" stroke-width="0.7"/>
<line x1="428.50" y1="162.30" x2="428.50" y2="164.30" stroke="#333" stroke-width="0.6"/>
<rect x="459.70" y="143.70" width="6.75" height="18.60" fill="url(#pNeg)" stroke="#1c1c1c" stroke-width="0.7"/>
<rect x="466.45" y="142.58" width="6.75" height="19.72" fill="url(#pNeg)" stroke="#1c1c1c" stroke-width="0.7"/>
<rect x="473.20" y="147.79" width="6.75" height="14.51" fill="url(#pNeg)" stroke="#1c1c1c" stroke-width="0.7"/>
<rect x="479.95" y="143.70" width="6.75" height="18.60" fill="url(#pNeg)" stroke="#1c1c1c" stroke-width="0.7"/>
<line x1="463.07" y1="130.68" x2="463.07" y2="156.72" stroke="#8a8a8a" stroke-width="0.7"/>
<line x1="461.57" y1="130.68" x2="464.57" y2="130.68" stroke="#8a8a8a" stroke-width="0.7"/>
<line x1="461.57" y1="156.72" x2="464.57" y2="156.72" stroke="#8a8a8a" stroke-width="0.7"/>
<line x1="469.82" y1="125.84" x2="469.82" y2="159.32" stroke="#8a8a8a" stroke-width="0.7"/>
<line x1="468.32" y1="125.84" x2="471.32" y2="125.84" stroke="#8a8a8a" stroke-width="0.7"/>
<line x1="468.32" y1="159.32" x2="471.32" y2="159.32" stroke="#8a8a8a" stroke-width="0.7"/>
<line x1="476.57" y1="135.52" x2="476.57" y2="160.07" stroke="#8a8a8a" stroke-width="0.7"/>
<line x1="475.07" y1="135.52" x2="478.07" y2="135.52" stroke="#8a8a8a" stroke-width="0.7"/>
<line x1="475.07" y1="160.07" x2="478.07" y2="160.07" stroke="#8a8a8a" stroke-width="0.7"/>
<line x1="483.32" y1="128.82" x2="483.32" y2="158.58" stroke="#8a8a8a" stroke-width="0.7"/>
<line x1="481.82" y1="128.82" x2="484.82" y2="128.82" stroke="#8a8a8a" stroke-width="0.7"/>
<line x1="481.82" y1="158.58" x2="484.82" y2="158.58" stroke="#8a8a8a" stroke-width="0.7"/>
<line x1="458.30" y1="162.30" x2="458.30" y2="164.30" stroke="#333" stroke-width="0.6"/>
<rect x="489.80" y="118.78" width="6.75" height="43.52" fill="url(#pCH1)" stroke="#1c1c1c" stroke-width="0.7"/>
<rect x="496.55" y="110.96" width="6.75" height="51.34" fill="url(#pCH1)" stroke="#1c1c1c" stroke-width="0.7"/>
<rect x="503.30" y="111.71" width="6.75" height="50.59" fill="url(#pCH1)" stroke="#1c1c1c" stroke-width="0.7"/>
<rect x="510.05" y="109.10" width="6.75" height="53.20" fill="url(#pCH1)" stroke="#1c1c1c" stroke-width="0.7"/>
<line x1="493.18" y1="116.92" x2="493.18" y2="120.64" stroke="#8a8a8a" stroke-width="0.7"/>
<line x1="491.68" y1="116.92" x2="494.68" y2="116.92" stroke="#8a8a8a" stroke-width="0.7"/>
<line x1="491.68" y1="120.64" x2="494.68" y2="120.64" stroke="#8a8a8a" stroke-width="0.7"/>
<line x1="499.93" y1="95.71" x2="499.93" y2="126.22" stroke="#8a8a8a" stroke-width="0.7"/>
<line x1="498.43" y1="95.71" x2="501.43" y2="95.71" stroke="#8a8a8a" stroke-width="0.7"/>
<line x1="498.43" y1="126.22" x2="501.43" y2="126.22" stroke="#8a8a8a" stroke-width="0.7"/>
<line x1="506.68" y1="102.78" x2="506.68" y2="120.64" stroke="#8a8a8a" stroke-width="0.7"/>
<line x1="505.18" y1="102.78" x2="508.18" y2="102.78" stroke="#8a8a8a" stroke-width="0.7"/>
<line x1="505.18" y1="120.64" x2="508.18" y2="120.64" stroke="#8a8a8a" stroke-width="0.7"/>
<line x1="513.42" y1="107.24" x2="513.42" y2="110.96" stroke="#8a8a8a" stroke-width="0.7"/>
<line x1="511.92" y1="107.24" x2="514.92" y2="107.24" stroke="#8a8a8a" stroke-width="0.7"/>
<line x1="511.92" y1="110.96" x2="514.92" y2="110.96" stroke="#8a8a8a" stroke-width="0.7"/>
<line x1="488.40" y1="162.30" x2="488.40" y2="164.30" stroke="#333" stroke-width="0.6"/>
<path d="M486.00 173.0 L514.80 165.0 L514.80 173.0 Z" fill="#000"/>
<text x="501.80" y="182.80" font-size="8.1" text-anchor="middle" fill="#1a1a1a">CH-1</text>
<rect x="519.70" y="123.98" width="6.75" height="38.32" fill="url(#pCH2)" stroke="#1c1c1c" stroke-width="0.7"/>
<rect x="526.45" y="120.64" width="6.75" height="41.66" fill="url(#pCH2)" stroke="#1c1c1c" stroke-width="0.7"/>
<rect x="533.20" y="118.40" width="6.75" height="43.90" fill="url(#pCH2)" stroke="#1c1c1c" stroke-width="0.7"/>
<rect x="539.95" y="118.40" width="6.75" height="43.90" fill="url(#pCH2)" stroke="#1c1c1c" stroke-width="0.7"/>
<line x1="523.08" y1="114.68" x2="523.08" y2="133.28" stroke="#8a8a8a" stroke-width="0.7"/>
<line x1="521.58" y1="114.68" x2="524.58" y2="114.68" stroke="#8a8a8a" stroke-width="0.7"/>
<line x1="521.58" y1="133.28" x2="524.58" y2="133.28" stroke="#8a8a8a" stroke-width="0.7"/>
<line x1="529.83" y1="102.04" x2="529.83" y2="139.24" stroke="#8a8a8a" stroke-width="0.7"/>
<line x1="528.33" y1="102.04" x2="531.33" y2="102.04" stroke="#8a8a8a" stroke-width="0.7"/>
<line x1="528.33" y1="139.24" x2="531.33" y2="139.24" stroke="#8a8a8a" stroke-width="0.7"/>
<line x1="536.58" y1="96.08" x2="536.58" y2="140.72" stroke="#8a8a8a" stroke-width="0.7"/>
<line x1="535.08" y1="96.08" x2="538.08" y2="96.08" stroke="#8a8a8a" stroke-width="0.7"/>
<line x1="535.08" y1="140.72" x2="538.08" y2="140.72" stroke="#8a8a8a" stroke-width="0.7"/>
<line x1="543.33" y1="79.72" x2="543.33" y2="157.09" stroke="#8a8a8a" stroke-width="0.7"/>
<line x1="541.83" y1="79.72" x2="544.83" y2="79.72" stroke="#8a8a8a" stroke-width="0.7"/>
<line x1="541.83" y1="157.09" x2="544.83" y2="157.09" stroke="#8a8a8a" stroke-width="0.7"/>
<line x1="518.30" y1="162.30" x2="518.30" y2="164.30" stroke="#333" stroke-width="0.6"/>
<path d="M515.90 173.0 L544.70 165.0 L544.70 173.0 Z" fill="#000"/>
<text x="531.70" y="182.80" font-size="8.1" text-anchor="middle" fill="#1a1a1a">CH-2</text>
<rect x="549.80" y="126.96" width="6.75" height="35.34" fill="url(#pCH3)" stroke="#1c1c1c" stroke-width="0.7"/>
<rect x="556.55" y="137.75" width="6.75" height="24.55" fill="url(#pCH3)" stroke="#1c1c1c" stroke-width="0.7"/>
<rect x="563.30" y="137.00" width="6.75" height="25.30" fill="url(#pCH3)" stroke="#1c1c1c" stroke-width="0.7"/>
<rect x="570.05" y="139.61" width="6.75" height="22.69" fill="url(#pCH3)" stroke="#1c1c1c" stroke-width="0.7"/>
<line x1="553.17" y1="114.68" x2="553.17" y2="139.24" stroke="#8a8a8a" stroke-width="0.7"/>
<line x1="551.67" y1="114.68" x2="554.67" y2="114.68" stroke="#8a8a8a" stroke-width="0.7"/>
<line x1="551.67" y1="139.24" x2="554.67" y2="139.24" stroke="#8a8a8a" stroke-width="0.7"/>
<line x1="559.92" y1="126.59" x2="559.92" y2="148.91" stroke="#8a8a8a" stroke-width="0.7"/>
<line x1="558.42" y1="126.59" x2="561.42" y2="126.59" stroke="#8a8a8a" stroke-width="0.7"/>
<line x1="558.42" y1="148.91" x2="561.42" y2="148.91" stroke="#8a8a8a" stroke-width="0.7"/>
<line x1="566.67" y1="123.24" x2="566.67" y2="150.77" stroke="#8a8a8a" stroke-width="0.7"/>
<line x1="565.17" y1="123.24" x2="568.17" y2="123.24" stroke="#8a8a8a" stroke-width="0.7"/>
<line x1="565.17" y1="150.77" x2="568.17" y2="150.77" stroke="#8a8a8a" stroke-width="0.7"/>
<line x1="573.42" y1="124.73" x2="573.42" y2="154.49" stroke="#8a8a8a" stroke-width="0.7"/>
<line x1="571.92" y1="124.73" x2="574.92" y2="124.73" stroke="#8a8a8a" stroke-width="0.7"/>
<line x1="571.92" y1="154.49" x2="574.92" y2="154.49" stroke="#8a8a8a" stroke-width="0.7"/>
<line x1="548.40" y1="162.30" x2="548.40" y2="164.30" stroke="#333" stroke-width="0.6"/>
<path d="M546.00 173.0 L574.80 165.0 L574.80 173.0 Z" fill="#000"/>
<text x="561.80" y="182.80" font-size="8.1" text-anchor="middle" fill="#1a1a1a">CH-3</text>
<rect x="579.50" y="116.54" width="6.75" height="45.76" fill="#858585" stroke="#1c1c1c" stroke-width="0.7"/>
<rect x="586.25" y="89.76" width="6.75" height="72.54" fill="#858585" stroke="#1c1c1c" stroke-width="0.7"/>
<rect x="593.00" y="96.08" width="6.75" height="66.22" fill="#858585" stroke="#1c1c1c" stroke-width="0.7"/>
<rect x="599.75" y="140.35" width="6.75" height="21.95" fill="#858585" stroke="#1c1c1c" stroke-width="0.7"/>
<line x1="582.88" y1="111.34" x2="582.88" y2="121.75" stroke="#8a8a8a" stroke-width="0.7"/>
<line x1="581.38" y1="111.34" x2="584.38" y2="111.34" stroke="#8a8a8a" stroke-width="0.7"/>
<line x1="581.38" y1="121.75" x2="584.38" y2="121.75" stroke="#8a8a8a" stroke-width="0.7"/>
<line x1="589.62" y1="79.72" x2="589.62" y2="99.80" stroke="#8a8a8a" stroke-width="0.7"/>
<line x1="588.12" y1="79.72" x2="591.12" y2="79.72" stroke="#8a8a8a" stroke-width="0.7"/>
<line x1="588.12" y1="99.80" x2="591.12" y2="99.80" stroke="#8a8a8a" stroke-width="0.7"/>
<line x1="596.38" y1="60.00" x2="596.38" y2="132.17" stroke="#8a8a8a" stroke-width="0.7"/>
<line x1="594.88" y1="60.00" x2="597.88" y2="60.00" stroke="#8a8a8a" stroke-width="0.7"/>
<line x1="594.88" y1="132.17" x2="597.88" y2="132.17" stroke="#8a8a8a" stroke-width="0.7"/>
<line x1="603.12" y1="133.66" x2="603.12" y2="147.05" stroke="#8a8a8a" stroke-width="0.7"/>
<line x1="601.62" y1="133.66" x2="604.62" y2="133.66" stroke="#8a8a8a" stroke-width="0.7"/>
<line x1="601.62" y1="147.05" x2="604.62" y2="147.05" stroke="#8a8a8a" stroke-width="0.7"/>
<line x1="578.10" y1="162.30" x2="578.10" y2="164.30" stroke="#333" stroke-width="0.6"/>
<path d="M575.70 173.0 L604.50 165.0 L604.50 173.0 Z" fill="#000"/>
<text x="591.50" y="182.80" font-size="8.1" text-anchor="middle" fill="#1a1a1a">CH-4</text>
<rect x="609.50" y="127.70" width="6.75" height="34.60" fill="url(#pCH5)" stroke="#1c1c1c" stroke-width="0.7"/>
<rect x="616.25" y="126.59" width="6.75" height="35.71" fill="url(#pCH5)" stroke="#1c1c1c" stroke-width="0.7"/>
<rect x="623.00" y="118.40" width="6.75" height="43.90" fill="url(#pCH5)" stroke="#1c1c1c" stroke-width="0.7"/>
<rect x="629.75" y="126.22" width="6.75" height="36.08" fill="url(#pCH5)" stroke="#1c1c1c" stroke-width="0.7"/>
<line x1="612.88" y1="122.87" x2="612.88" y2="132.54" stroke="#8a8a8a" stroke-width="0.7"/>
<line x1="611.38" y1="122.87" x2="614.38" y2="122.87" stroke="#8a8a8a" stroke-width="0.7"/>
<line x1="611.38" y1="132.54" x2="614.38" y2="132.54" stroke="#8a8a8a" stroke-width="0.7"/>
<line x1="619.62" y1="119.15" x2="619.62" y2="134.03" stroke="#8a8a8a" stroke-width="0.7"/>
<line x1="618.12" y1="119.15" x2="621.12" y2="119.15" stroke="#8a8a8a" stroke-width="0.7"/>
<line x1="618.12" y1="134.03" x2="621.12" y2="134.03" stroke="#8a8a8a" stroke-width="0.7"/>
<line x1="626.38" y1="112.82" x2="626.38" y2="123.98" stroke="#8a8a8a" stroke-width="0.7"/>
<line x1="624.88" y1="112.82" x2="627.88" y2="112.82" stroke="#8a8a8a" stroke-width="0.7"/>
<line x1="624.88" y1="123.98" x2="627.88" y2="123.98" stroke="#8a8a8a" stroke-width="0.7"/>
<line x1="633.12" y1="118.03" x2="633.12" y2="134.40" stroke="#8a8a8a" stroke-width="0.7"/>
<line x1="631.62" y1="118.03" x2="634.62" y2="118.03" stroke="#8a8a8a" stroke-width="0.7"/>
<line x1="631.62" y1="134.40" x2="634.62" y2="134.40" stroke="#8a8a8a" stroke-width="0.7"/>
<line x1="608.10" y1="162.30" x2="608.10" y2="164.30" stroke="#333" stroke-width="0.6"/>
<path d="M605.70 173.0 L634.50 165.0 L634.50 173.0 Z" fill="#000"/>
<text x="621.50" y="182.80" font-size="8.1" text-anchor="middle" fill="#1a1a1a">CH-5</text>
<rect x="639.30" y="122.87" width="6.75" height="39.43" fill="url(#pCH6)" stroke="#1c1c1c" stroke-width="0.7"/>
<rect x="646.05" y="121.38" width="6.75" height="40.92" fill="url(#pCH6)" stroke="#1c1c1c" stroke-width="0.7"/>
<rect x="652.80" y="126.59" width="6.75" height="35.71" fill="url(#pCH6)" stroke="#1c1c1c" stroke-width="0.7"/>
<rect x="659.55" y="121.38" width="6.75" height="40.92" fill="url(#pCH6)" stroke="#1c1c1c" stroke-width="0.7"/>
<line x1="642.67" y1="118.03" x2="642.67" y2="127.70" stroke="#8a8a8a" stroke-width="0.7"/>
<line x1="641.17" y1="118.03" x2="644.17" y2="118.03" stroke="#8a8a8a" stroke-width="0.7"/>
<line x1="641.17" y1="127.70" x2="644.17" y2="127.70" stroke="#8a8a8a" stroke-width="0.7"/>
<line x1="649.42" y1="113.94" x2="649.42" y2="128.82" stroke="#8a8a8a" stroke-width="0.7"/>
<line x1="647.92" y1="113.94" x2="650.92" y2="113.94" stroke="#8a8a8a" stroke-width="0.7"/>
<line x1="647.92" y1="128.82" x2="650.92" y2="128.82" stroke="#8a8a8a" stroke-width="0.7"/>
<line x1="656.17" y1="125.47" x2="656.17" y2="127.70" stroke="#8a8a8a" stroke-width="0.7"/>
<line x1="654.67" y1="125.47" x2="657.67" y2="125.47" stroke="#8a8a8a" stroke-width="0.7"/>
<line x1="654.67" y1="127.70" x2="657.67" y2="127.70" stroke="#8a8a8a" stroke-width="0.7"/>
<line x1="662.92" y1="110.96" x2="662.92" y2="131.80" stroke="#8a8a8a" stroke-width="0.7"/>
<line x1="661.42" y1="110.96" x2="664.42" y2="110.96" stroke="#8a8a8a" stroke-width="0.7"/>
<line x1="661.42" y1="131.80" x2="664.42" y2="131.80" stroke="#8a8a8a" stroke-width="0.7"/>
<line x1="637.90" y1="162.30" x2="637.90" y2="164.30" stroke="#333" stroke-width="0.6"/>
<path d="M635.50 173.0 L664.30 165.0 L664.30 173.0 Z" fill="#000"/>
<text x="651.30" y="182.80" font-size="8.1" text-anchor="middle" fill="#1a1a1a">CH-6</text>
<text x="443.80" y="171.60" font-size="8.6" text-anchor="end" fill="#1a1a1a" transform="rotate(-40 443.8 171.6)">positive</text>
<text x="473.80" y="171.60" font-size="8.6" text-anchor="end" fill="#1a1a1a" transform="rotate(-40 473.8 171.6)">negative</text>
<path d="M434.4 125 L434.4 28 L589.2 28 L589.2 71.5" fill="none" stroke="#8a8a8a" stroke-width="0.9"/>
<path d="M434.4 43 L451.5 43 L451.5 56" fill="none" stroke="#8a8a8a" stroke-width="0.9"/>
<path d="M434.4 76.4 L445.6 76.4 L445.6 90" fill="none" stroke="#8a8a8a" stroke-width="0.9"/>
<text x="506.00" y="30.30" font-size="11.5" text-anchor="middle" fill="#444">**</text>
<text x="443.30" y="47.00" font-size="11.5" text-anchor="middle" fill="#444">***</text>
<text x="440.00" y="80.30" font-size="11.5" text-anchor="middle" fill="#444">*</text>
<path d="M238.1 435.9 L238.1 252" fill="none" stroke="#000" stroke-width="2.1"/>
<path d="M238.2 246.8 L241.4 253.6 L235 253.6 Z" fill="#000"/>
<path d="M237.1 434.9 L468 434.9" fill="none" stroke="#000" stroke-width="2.1"/>
<path d="M474.5 434.9 L467.4 431.7 L467.4 438.1 Z" fill="#000"/>
<text x="230.90" y="344.40" font-size="7.7" text-anchor="middle" fill="#1a1a1a" transform="rotate(-90 230.9 344.4)">Count</text>
<text x="357.80" y="448.20" font-size="7.7" text-anchor="middle" fill="#1a1a1a">Atto 647N-A</text>
<rect x="249.3" y="259.2" width="67.20" height="48.90" fill="#fff" stroke="#3c3c3c" stroke-width="0.55"/>
<line x1="248.60" y1="260.20" x2="248.60" y2="308.10" stroke="#555" stroke-width="1.0" stroke-dasharray="0.45 1.05"/>
<line x1="249.30" y1="308.80" x2="315.50" y2="308.80" stroke="#555" stroke-width="1.0" stroke-dasharray="0.45 1.05"/>
<line x1="247.80" y1="307.10" x2="249.30" y2="307.10" stroke="#555" stroke-width="0.5"/>
<rect x="243.30" y="306.30" width="3.4" height="1.6" fill="#666"/>
<line x1="247.80" y1="295.62" x2="249.30" y2="295.62" stroke="#555" stroke-width="0.5"/>
<rect x="243.30" y="294.82" width="3.4" height="1.6" fill="#666"/>
<line x1="247.80" y1="284.15" x2="249.30" y2="284.15" stroke="#555" stroke-width="0.5"/>
<rect x="243.30" y="283.35" width="3.4" height="1.6" fill="#666"/>
<line x1="247.80" y1="272.68" x2="249.30" y2="272.68" stroke="#555" stroke-width="0.5"/>
<rect x="243.30" y="271.88" width="3.4" height="1.6" fill="#666"/>
<line x1="247.80" y1="261.20" x2="249.30" y2="261.20" stroke="#555" stroke-width="0.5"/>
<rect x="243.30" y="260.40" width="3.4" height="1.6" fill="#666"/>
<line x1="257.36" y1="308.10" x2="257.36" y2="309.50" stroke="#555" stroke-width="0.5"/>
<rect x="256.71" y="310.50" width="1.3" height="1.6" fill="#666"/>
<line x1="264.08" y1="308.10" x2="264.08" y2="309.50" stroke="#555" stroke-width="0.5"/>
<rect x="262.58" y="310.50" width="3.0" height="1.6" fill="#666"/>
<line x1="278.87" y1="308.10" x2="278.87" y2="309.50" stroke="#555" stroke-width="0.5"/>
<rect x="277.37" y="310.50" width="3.0" height="1.6" fill="#666"/>
<line x1="293.65" y1="308.10" x2="293.65" y2="309.50" stroke="#555" stroke-width="0.5"/>
<rect x="292.15" y="310.50" width="3.0" height="1.6" fill="#666"/>
<line x1="307.76" y1="308.10" x2="307.76" y2="309.50" stroke="#555" stroke-width="0.5"/>
<rect x="306.26" y="310.50" width="3.0" height="1.6" fill="#666"/>
<path d="M250.00 307.30 C251.08 307.30 254.45 307.62 256.00 307.30 C257.55 306.98 257.66 307.35 258.60 305.50 C259.54 303.65 260.34 301.41 261.20 297.00 C262.06 292.59 262.70 285.55 263.40 281.00 C264.10 276.45 264.47 271.70 265.10 271.70 C265.73 271.70 266.14 276.45 266.90 281.00 C267.66 285.55 268.42 292.68 269.30 297.00 C270.18 301.32 270.90 303.20 271.80 305.00 C272.70 306.80 272.46 306.59 274.30 307.00 C276.14 307.41 274.67 307.25 282.00 307.30 C289.33 307.35 309.06 307.30 315.00 307.30" fill="none" stroke="#222" stroke-width="0.8" stroke-linejoin="round"/>
<line x1="279.50" y1="280.80" x2="315.40" y2="280.80" stroke="#444" stroke-width="0.7"/>
<line x1="279.50" y1="279.80" x2="279.50" y2="281.80" stroke="#444" stroke-width="0.6"/>
<line x1="315.40" y1="279.80" x2="315.40" y2="281.80" stroke="#444" stroke-width="0.6"/>
<text x="297.00" y="278.20" font-size="7.8" text-anchor="middle" fill="#1a1a1a">3.52 %</text>
<text x="252.10" y="268.10" font-size="8.5" text-anchor="start" fill="#1a1a1a">a.</text>
<rect x="325.4" y="259.2" width="66.60" height="48.90" fill="#fff" stroke="#3c3c3c" stroke-width="0.55"/>
<line x1="324.70" y1="260.20" x2="324.70" y2="308.10" stroke="#555" stroke-width="1.0" stroke-dasharray="0.45 1.05"/>
<line x1="325.40" y1="308.80" x2="391.00" y2="308.80" stroke="#555" stroke-width="1.0" stroke-dasharray="0.45 1.05"/>
<line x1="323.90" y1="307.10" x2="325.40" y2="307.10" stroke="#555" stroke-width="0.5"/>
<rect x="319.40" y="306.30" width="3.4" height="1.6" fill="#666"/>
<line x1="323.90" y1="295.62" x2="325.40" y2="295.62" stroke="#555" stroke-width="0.5"/>
<rect x="319.40" y="294.82" width="3.4" height="1.6" fill="#666"/>
<line x1="323.90" y1="284.15" x2="325.40" y2="284.15" stroke="#555" stroke-width="0.5"/>
<rect x="319.40" y="283.35" width="3.4" height="1.6" fill="#666"/>
<line x1="323.90" y1="272.68" x2="325.40" y2="272.68" stroke="#555" stroke-width="0.5"/>
<rect x="319.40" y="271.88" width="3.4" height="1.6" fill="#666"/>
<line x1="323.90" y1="261.20" x2="325.40" y2="261.20" stroke="#555" stroke-width="0.5"/>
<rect x="319.40" y="260.40" width="3.4" height="1.6" fill="#666"/>
<line x1="333.39" y1="308.10" x2="333.39" y2="309.50" stroke="#555" stroke-width="0.5"/>
<rect x="332.74" y="310.50" width="1.3" height="1.6" fill="#666"/>
<line x1="340.05" y1="308.10" x2="340.05" y2="309.50" stroke="#555" stroke-width="0.5"/>
<rect x="338.55" y="310.50" width="3.0" height="1.6" fill="#666"/>
<line x1="354.70" y1="308.10" x2="354.70" y2="309.50" stroke="#555" stroke-width="0.5"/>
<rect x="353.20" y="310.50" width="3.0" height="1.6" fill="#666"/>
<line x1="369.36" y1="308.10" x2="369.36" y2="309.50" stroke="#555" stroke-width="0.5"/>
<rect x="367.86" y="310.50" width="3.0" height="1.6" fill="#666"/>
<line x1="383.34" y1="308.10" x2="383.34" y2="309.50" stroke="#555" stroke-width="0.5"/>
<rect x="381.84" y="310.50" width="3.0" height="1.6" fill="#666"/>
<path d="M326.00 307.30 C327.17 307.30 330.84 307.71 332.50 307.30 C334.16 306.89 334.14 307.57 335.20 305.00 C336.26 302.43 337.36 298.58 338.40 293.00 C339.44 287.42 340.30 278.41 341.00 274.00 C341.70 269.59 341.90 269.29 342.30 268.50 C342.70 267.71 342.86 269.65 343.20 269.60 C343.54 269.55 343.73 267.41 344.20 268.20 C344.67 268.99 345.01 269.54 345.80 274.00 C346.59 278.46 347.63 287.51 348.60 293.00 C349.57 298.49 350.26 301.98 351.20 304.50 C352.14 307.02 351.86 306.55 353.80 307.00 C355.74 307.45 359.80 307.18 362.00 307.00 C364.20 306.82 364.96 306.27 366.00 306.00 C367.04 305.73 367.17 305.39 367.80 305.50 C368.43 305.61 368.74 306.28 369.50 306.60 C370.26 306.92 368.13 307.17 372.00 307.30 C375.87 307.43 387.58 307.30 391.00 307.30" fill="none" stroke="#222" stroke-width="0.8" stroke-linejoin="round"/>
<line x1="355.90" y1="280.80" x2="391.00" y2="280.80" stroke="#444" stroke-width="0.7"/>
<line x1="355.90" y1="279.80" x2="355.90" y2="281.80" stroke="#444" stroke-width="0.6"/>
<line x1="391.00" y1="279.80" x2="391.00" y2="281.80" stroke="#444" stroke-width="0.6"/>
<text x="373.10" y="277.00" font-size="7.8" text-anchor="middle" fill="#1a1a1a">4.59 %</text>
<text x="328.20" y="268.10" font-size="8.5" text-anchor="start" fill="#1a1a1a">b.</text>
<rect x="401.3" y="259.2" width="67.00" height="48.90" fill="#fff" stroke="#3c3c3c" stroke-width="0.55"/>
<line x1="400.60" y1="260.20" x2="400.60" y2="308.10" stroke="#555" stroke-width="1.0" stroke-dasharray="0.45 1.05"/>
<line x1="401.30" y1="308.80" x2="467.30" y2="308.80" stroke="#555" stroke-width="1.0" stroke-dasharray="0.45 1.05"/>
<line x1="399.80" y1="307.10" x2="401.30" y2="307.10" stroke="#555" stroke-width="0.5"/>
<rect x="395.30" y="306.30" width="3.4" height="1.6" fill="#666"/>
<line x1="399.80" y1="295.62" x2="401.30" y2="295.62" stroke="#555" stroke-width="0.5"/>
<rect x="395.30" y="294.82" width="3.4" height="1.6" fill="#666"/>
<line x1="399.80" y1="284.15" x2="401.30" y2="284.15" stroke="#555" stroke-width="0.5"/>
<rect x="395.30" y="283.35" width="3.4" height="1.6" fill="#666"/>
<line x1="399.80" y1="272.68" x2="401.30" y2="272.68" stroke="#555" stroke-width="0.5"/>
<rect x="395.30" y="271.88" width="3.4" height="1.6" fill="#666"/>
<line x1="399.80" y1="261.20" x2="401.30" y2="261.20" stroke="#555" stroke-width="0.5"/>
<rect x="395.30" y="260.40" width="3.4" height="1.6" fill="#666"/>
<line x1="409.34" y1="308.10" x2="409.34" y2="309.50" stroke="#555" stroke-width="0.5"/>
<rect x="408.69" y="310.50" width="1.3" height="1.6" fill="#666"/>
<line x1="416.04" y1="308.10" x2="416.04" y2="309.50" stroke="#555" stroke-width="0.5"/>
<rect x="414.54" y="310.50" width="3.0" height="1.6" fill="#666"/>
<line x1="430.78" y1="308.10" x2="430.78" y2="309.50" stroke="#555" stroke-width="0.5"/>
<rect x="429.28" y="310.50" width="3.0" height="1.6" fill="#666"/>
<line x1="445.52" y1="308.10" x2="445.52" y2="309.50" stroke="#555" stroke-width="0.5"/>
<rect x="444.02" y="310.50" width="3.0" height="1.6" fill="#666"/>
<line x1="459.59" y1="308.10" x2="459.59" y2="309.50" stroke="#555" stroke-width="0.5"/>
<rect x="458.09" y="310.50" width="3.0" height="1.6" fill="#666"/>
<path d="M401.80 307.30 C406.79 307.30 424.17 307.53 429.50 307.30 C434.83 307.07 430.73 307.67 431.40 306.00 C432.07 304.33 432.57 303.40 433.20 298.00 C433.83 292.60 434.34 281.83 434.90 276.00 C435.46 270.17 435.80 265.60 436.30 265.60 C436.80 265.60 437.12 270.35 437.70 276.00 C438.28 281.65 438.80 291.73 439.50 297.00 C440.20 302.27 440.74 303.46 441.60 305.30 C442.46 307.14 439.73 306.84 444.30 307.20 C448.87 307.56 462.91 307.28 467.00 307.30" fill="none" stroke="#222" stroke-width="0.8" stroke-linejoin="round"/>
<line x1="436.50" y1="281.80" x2="467.10" y2="281.80" stroke="#444" stroke-width="0.7"/>
<line x1="436.50" y1="280.80" x2="436.50" y2="282.80" stroke="#444" stroke-width="0.6"/>
<line x1="467.10" y1="280.80" x2="467.10" y2="282.80" stroke="#444" stroke-width="0.6"/>
<text x="453.30" y="278.90" font-size="7.8" text-anchor="middle" fill="#1a1a1a">53.9 %</text>
<text x="404.10" y="268.10" font-size="8.5" text-anchor="start" fill="#1a1a1a">c.</text>
<rect x="249.3" y="318.0" width="67.20" height="48.80" fill="#fff" stroke="#3c3c3c" stroke-width="0.55"/>
<line x1="248.60" y1="319.00" x2="248.60" y2="366.80" stroke="#555" stroke-width="1.0" stroke-dasharray="0.45 1.05"/>
<line x1="249.30" y1="367.50" x2="315.50" y2="367.50" stroke="#555" stroke-width="1.0" stroke-dasharray="0.45 1.05"/>
<line x1="247.80" y1="365.80" x2="249.30" y2="365.80" stroke="#555" stroke-width="0.5"/>
<rect x="243.30" y="365.00" width="3.4" height="1.6" fill="#666"/>
<line x1="247.80" y1="354.35" x2="249.30" y2="354.35" stroke="#555" stroke-width="0.5"/>
<rect x="243.30" y="353.55" width="3.4" height="1.6" fill="#666"/>
<line x1="247.80" y1="342.90" x2="249.30" y2="342.90" stroke="#555" stroke-width="0.5"/>
<rect x="243.30" y="342.10" width="3.4" height="1.6" fill="#666"/>
<line x1="247.80" y1="331.45" x2="249.30" y2="331.45" stroke="#555" stroke-width="0.5"/>
<rect x="243.30" y="330.65" width="3.4" height="1.6" fill="#666"/>
<line x1="247.80" y1="320.00" x2="249.30" y2="320.00" stroke="#555" stroke-width="0.5"/>
<rect x="243.30" y="319.20" width="3.4" height="1.6" fill="#666"/>
<line x1="257.36" y1="366.80" x2="257.36" y2="368.20" stroke="#555" stroke-width="0.5"/>
<rect x="256.71" y="369.20" width="1.3" height="1.6" fill="#666"/>
<line x1="264.08" y1="366.80" x2="264.08" y2="368.20" stroke="#555" stroke-width="0.5"/>
<rect x="262.58" y="369.20" width="3.0" height="1.6" fill="#666"/>
<line x1="278.87" y1="366.80" x2="278.87" y2="368.20" stroke="#555" stroke-width="0.5"/>
<rect x="277.37" y="369.20" width="3.0" height="1.6" fill="#666"/>
<line x1="293.65" y1="366.80" x2="293.65" y2="368.20" stroke="#555" stroke-width="0.5"/>
<rect x="292.15" y="369.20" width="3.0" height="1.6" fill="#666"/>
<line x1="307.76" y1="366.80" x2="307.76" y2="368.20" stroke="#555" stroke-width="0.5"/>
<rect x="306.26" y="369.20" width="3.0" height="1.6" fill="#666"/>
<path d="M250.00 365.80 C251.71 365.80 257.34 366.21 259.50 365.80 C261.66 365.39 261.01 366.34 262.00 363.50 C262.99 360.66 264.01 355.85 265.00 350.00 C265.99 344.15 266.74 335.75 267.50 331.00 C268.26 326.25 268.57 323.60 269.20 323.60 C269.83 323.60 270.23 326.25 271.00 331.00 C271.77 335.75 272.60 344.60 273.50 350.00 C274.40 355.40 275.26 358.66 276.00 361.00 C276.74 363.34 277.02 363.18 277.60 363.00 C278.18 362.82 278.55 362.88 279.20 360.00 C279.85 357.12 280.48 350.60 281.20 347.00 C281.92 343.40 282.52 341.44 283.20 340.00 C283.88 338.56 284.37 339.50 285.00 339.00 C285.63 338.50 286.07 336.66 286.70 337.20 C287.33 337.74 287.73 339.52 288.50 342.00 C289.27 344.48 290.10 347.76 291.00 351.00 C291.90 354.24 292.56 357.48 293.50 360.00 C294.44 362.52 295.21 363.96 296.20 365.00 C297.19 366.04 295.62 365.66 299.00 365.80 C302.38 365.94 312.12 365.80 315.00 365.80" fill="none" stroke="#222" stroke-width="0.8" stroke-linejoin="round"/>
<line x1="284.30" y1="342.20" x2="315.40" y2="342.20" stroke="#444" stroke-width="0.7"/>
<line x1="284.30" y1="341.20" x2="284.30" y2="343.20" stroke="#444" stroke-width="0.6"/>
<line x1="315.40" y1="341.20" x2="315.40" y2="343.20" stroke="#444" stroke-width="0.6"/>
<text x="302.20" y="339.00" font-size="7.8" text-anchor="middle" fill="#1a1a1a">33.1 %</text>
<text x="252.10" y="326.90" font-size="8.5" text-anchor="start" fill="#1a1a1a">d.</text>
<rect x="325.4" y="318.0" width="66.60" height="48.80" fill="#fff" stroke="#3c3c3c" stroke-width="0.55"/>
<line x1="324.70" y1="319.00" x2="324.70" y2="366.80" stroke="#555" stroke-width="1.0" stroke-dasharray="0.45 1.05"/>
<line x1="325.40" y1="367.50" x2="391.00" y2="367.50" stroke="#555" stroke-width="1.0" stroke-dasharray="0.45 1.05"/>
<line x1="323.90" y1="365.80" x2="325.40" y2="365.80" stroke="#555" stroke-width="0.5"/>
<rect x="319.40" y="365.00" width="3.4" height="1.6" fill="#666"/>
<line x1="323.90" y1="354.35" x2="325.40" y2="354.35" stroke="#555" stroke-width="0.5"/>
<rect x="319.40" y="353.55" width="3.4" height="1.6" fill="#666"/>
<line x1="323.90" y1="342.90" x2="325.40" y2="342.90" stroke="#555" stroke-width="0.5"/>
<rect x="319.40" y="342.10" width="3.4" height="1.6" fill="#666"/>
<line x1="323.90" y1="331.45" x2="325.40" y2="331.45" stroke="#555" stroke-width="0.5"/>
<rect x="319.40" y="330.65" width="3.4" height="1.6" fill="#666"/>
<line x1="323.90" y1="320.00" x2="325.40" y2="320.00" stroke="#555" stroke-width="0.5"/>
<rect x="319.40" y="319.20" width="3.4" height="1.6" fill="#666"/>
<line x1="333.39" y1="366.80" x2="333.39" y2="368.20" stroke="#555" stroke-width="0.5"/>
<rect x="332.74" y="369.20" width="1.3" height="1.6" fill="#666"/>
<line x1="340.05" y1="366.80" x2="340.05" y2="368.20" stroke="#555" stroke-width="0.5"/>
<rect x="338.55" y="369.20" width="3.0" height="1.6" fill="#666"/>
<line x1="354.70" y1="366.80" x2="354.70" y2="368.20" stroke="#555" stroke-width="0.5"/>
<rect x="353.20" y="369.20" width="3.0" height="1.6" fill="#666"/>
<line x1="369.36" y1="366.80" x2="369.36" y2="368.20" stroke="#555" stroke-width="0.5"/>
<rect x="367.86" y="369.20" width="3.0" height="1.6" fill="#666"/>
<line x1="383.34" y1="366.80" x2="383.34" y2="368.20" stroke="#555" stroke-width="0.5"/>
<rect x="381.84" y="369.20" width="3.0" height="1.6" fill="#666"/>
<path d="M326.00 365.80 C328.25 365.80 335.71 366.21 338.50 365.80 C341.29 365.39 340.42 365.44 341.50 363.50 C342.58 361.56 343.60 358.15 344.50 355.00 C345.40 351.85 345.92 348.00 346.50 346.00 C347.08 344.00 347.20 344.89 347.70 343.90 C348.20 342.91 348.67 341.71 349.30 340.50 C349.93 339.29 350.53 337.29 351.20 337.20 C351.87 337.11 352.35 338.60 353.00 340.00 C353.65 341.40 354.26 343.74 354.80 345.00 C355.34 346.26 355.51 347.36 356.00 347.00 C356.49 346.64 356.87 345.70 357.50 343.00 C358.13 340.30 358.78 335.20 359.50 332.00 C360.22 328.80 360.91 326.01 361.50 325.20 C362.09 324.39 362.28 327.14 362.80 327.50 C363.32 327.86 363.82 326.03 364.40 327.20 C364.98 328.37 365.26 330.26 366.00 334.00 C366.74 337.74 367.60 343.50 368.50 348.00 C369.40 352.50 370.19 356.12 371.00 359.00 C371.81 361.88 372.19 362.78 373.00 364.00 C373.81 365.22 372.26 365.48 375.50 365.80 C378.74 366.12 388.21 365.80 391.00 365.80" fill="none" stroke="#222" stroke-width="0.8" stroke-linejoin="round"/>
<line x1="360.30" y1="342.20" x2="390.70" y2="342.20" stroke="#444" stroke-width="0.7"/>
<line x1="360.30" y1="341.20" x2="360.30" y2="343.20" stroke="#444" stroke-width="0.6"/>
<line x1="390.70" y1="341.20" x2="390.70" y2="343.20" stroke="#444" stroke-width="0.6"/>
<text x="378.80" y="339.00" font-size="7.8" text-anchor="middle" fill="#1a1a1a">38.1 %</text>
<text x="328.20" y="326.90" font-size="8.5" text-anchor="start" fill="#1a1a1a">e.</text>
<rect x="401.3" y="318.0" width="67.00" height="48.80" fill="#fff" stroke="#3c3c3c" stroke-width="0.55"/>
<line x1="400.60" y1="319.00" x2="400.60" y2="366.80" stroke="#555" stroke-width="1.0" stroke-dasharray="0.45 1.05"/>
<line x1="401.30" y1="367.50" x2="467.30" y2="367.50" stroke="#555" stroke-width="1.0" stroke-dasharray="0.45 1.05"/>
<line x1="399.80" y1="365.80" x2="401.30" y2="365.80" stroke="#555" stroke-width="0.5"/>
<rect x="395.30" y="365.00" width="3.4" height="1.6" fill="#666"/>
<line x1="399.80" y1="354.35" x2="401.30" y2="354.35" stroke="#555" stroke-width="0.5"/>
<rect x="395.30" y="353.55" width="3.4" height="1.6" fill="#666"/>
<line x1="399.80" y1="342.90" x2="401.30" y2="342.90" stroke="#555" stroke-width="0.5"/>
<rect x="395.30" y="342.10" width="3.4" height="1.6" fill="#666"/>
<line x1="399.80" y1="331.45" x2="401.30" y2="331.45" stroke="#555" stroke-width="0.5"/>
<rect x="395.30" y="330.65" width="3.4" height="1.6" fill="#666"/>
<line x1="399.80" y1="320.00" x2="401.30" y2="320.00" stroke="#555" stroke-width="0.5"/>
<rect x="395.30" y="319.20" width="3.4" height="1.6" fill="#666"/>
<line x1="409.34" y1="366.80" x2="409.34" y2="368.20" stroke="#555" stroke-width="0.5"/>
<rect x="408.69" y="369.20" width="1.3" height="1.6" fill="#666"/>
<line x1="416.04" y1="366.80" x2="416.04" y2="368.20" stroke="#555" stroke-width="0.5"/>
<rect x="414.54" y="369.20" width="3.0" height="1.6" fill="#666"/>
<line x1="430.78" y1="366.80" x2="430.78" y2="368.20" stroke="#555" stroke-width="0.5"/>
<rect x="429.28" y="369.20" width="3.0" height="1.6" fill="#666"/>
<line x1="445.52" y1="366.80" x2="445.52" y2="368.20" stroke="#555" stroke-width="0.5"/>
<rect x="444.02" y="369.20" width="3.0" height="1.6" fill="#666"/>
<line x1="459.59" y1="366.80" x2="459.59" y2="368.20" stroke="#555" stroke-width="0.5"/>
<rect x="458.09" y="369.20" width="3.0" height="1.6" fill="#666"/>
<path d="M401.50 365.80 C403.66 365.80 410.71 366.21 413.50 365.80 C416.29 365.39 415.74 364.81 417.00 363.50 C418.26 362.19 419.37 359.87 420.50 358.50 C421.63 357.13 422.31 356.08 423.30 355.90 C424.29 355.72 424.99 357.07 426.00 357.50 C427.01 357.93 427.91 358.57 428.90 358.30 C429.89 358.03 430.51 357.51 431.50 356.00 C432.49 354.49 433.50 352.60 434.40 349.90 C435.30 347.20 435.76 344.40 436.50 341.00 C437.24 337.60 437.73 334.26 438.50 331.00 C439.27 327.74 440.08 322.90 440.80 322.90 C441.52 322.90 441.83 327.56 442.50 331.00 C443.17 334.44 443.69 338.04 444.50 342.00 C445.31 345.96 446.10 349.49 447.00 353.00 C447.90 356.51 448.46 359.34 449.50 361.50 C450.54 363.66 451.63 364.23 452.80 365.00 C453.97 365.77 453.44 365.66 456.00 365.80 C458.56 365.94 465.02 365.80 467.00 365.80" fill="none" stroke="#222" stroke-width="0.8" stroke-linejoin="round"/>
<line x1="436.50" y1="342.70" x2="467.60" y2="342.70" stroke="#444" stroke-width="0.7"/>
<line x1="436.50" y1="341.70" x2="436.50" y2="343.70" stroke="#444" stroke-width="0.6"/>
<line x1="467.60" y1="341.70" x2="467.60" y2="343.70" stroke="#444" stroke-width="0.6"/>
<text x="454.40" y="339.00" font-size="7.8" text-anchor="middle" fill="#1a1a1a">52.9 %</text>
<text x="404.10" y="326.90" font-size="8.5" text-anchor="start" fill="#1a1a1a">f.</text>
<rect x="249.3" y="376.0" width="67.20" height="49.00" fill="#fff" stroke="#3c3c3c" stroke-width="0.55"/>
<line x1="248.60" y1="377.00" x2="248.60" y2="425.00" stroke="#555" stroke-width="1.0" stroke-dasharray="0.45 1.05"/>
<line x1="249.30" y1="425.70" x2="315.50" y2="425.70" stroke="#555" stroke-width="1.0" stroke-dasharray="0.45 1.05"/>
<line x1="247.80" y1="424.00" x2="249.30" y2="424.00" stroke="#555" stroke-width="0.5"/>
<rect x="243.30" y="423.20" width="3.4" height="1.6" fill="#666"/>
<line x1="247.80" y1="412.50" x2="249.30" y2="412.50" stroke="#555" stroke-width="0.5"/>
<rect x="243.30" y="411.70" width="3.4" height="1.6" fill="#666"/>
<line x1="247.80" y1="401.00" x2="249.30" y2="401.00" stroke="#555" stroke-width="0.5"/>
<rect x="243.30" y="400.20" width="3.4" height="1.6" fill="#666"/>
<line x1="247.80" y1="389.50" x2="249.30" y2="389.50" stroke="#555" stroke-width="0.5"/>
<rect x="243.30" y="388.70" width="3.4" height="1.6" fill="#666"/>
<line x1="247.80" y1="378.00" x2="249.30" y2="378.00" stroke="#555" stroke-width="0.5"/>
<rect x="243.30" y="377.20" width="3.4" height="1.6" fill="#666"/>
<line x1="257.36" y1="425.00" x2="257.36" y2="426.40" stroke="#555" stroke-width="0.5"/>
<rect x="256.71" y="427.40" width="1.3" height="1.6" fill="#666"/>
<line x1="264.08" y1="425.00" x2="264.08" y2="426.40" stroke="#555" stroke-width="0.5"/>
<rect x="262.58" y="427.40" width="3.0" height="1.6" fill="#666"/>
<line x1="278.87" y1="425.00" x2="278.87" y2="426.40" stroke="#555" stroke-width="0.5"/>
<rect x="277.37" y="427.40" width="3.0" height="1.6" fill="#666"/>
<line x1="293.65" y1="425.00" x2="293.65" y2="426.40" stroke="#555" stroke-width="0.5"/>
<rect x="292.15" y="427.40" width="3.0" height="1.6" fill="#666"/>
<line x1="307.76" y1="425.00" x2="307.76" y2="426.40" stroke="#555" stroke-width="0.5"/>
<rect x="306.26" y="427.40" width="3.0" height="1.6" fill="#666"/>
<path d="M250.00 424.20 C251.73 424.20 257.40 424.69 259.60 424.20 C261.80 423.71 261.25 424.24 262.20 421.50 C263.15 418.76 263.98 414.67 264.90 409.00 C265.82 403.33 266.53 395.49 267.30 390.00 C268.07 384.51 268.50 378.50 269.20 378.50 C269.90 378.50 270.39 384.51 271.20 390.00 C272.01 395.49 272.82 403.42 273.70 409.00 C274.58 414.58 275.22 418.37 276.10 421.00 C276.98 423.63 277.18 423.13 278.60 423.60 C280.02 424.07 281.95 423.71 284.00 423.60 C286.05 423.49 288.02 422.96 290.00 423.00 C291.98 423.04 293.20 423.58 295.00 423.80 C296.80 424.02 296.40 424.13 300.00 424.20 C303.60 424.27 312.30 424.20 315.00 424.20" fill="none" stroke="#222" stroke-width="0.8" stroke-linejoin="round"/>
<line x1="280.00" y1="397.10" x2="314.90" y2="397.10" stroke="#444" stroke-width="0.7"/>
<line x1="280.00" y1="396.10" x2="280.00" y2="398.10" stroke="#444" stroke-width="0.6"/>
<line x1="314.90" y1="396.10" x2="314.90" y2="398.10" stroke="#444" stroke-width="0.6"/>
<text x="296.70" y="393.60" font-size="7.8" text-anchor="middle" fill="#1a1a1a">4.01 %</text>
<text x="252.10" y="384.90" font-size="8.5" text-anchor="start" fill="#1a1a1a">g.</text>
<rect x="325.4" y="376.0" width="66.60" height="49.00" fill="#fff" stroke="#3c3c3c" stroke-width="0.55"/>
<line x1="324.70" y1="377.00" x2="324.70" y2="425.00" stroke="#555" stroke-width="1.0" stroke-dasharray="0.45 1.05"/>
<line x1="325.40" y1="425.70" x2="391.00" y2="425.70" stroke="#555" stroke-width="1.0" stroke-dasharray="0.45 1.05"/>
<line x1="323.90" y1="424.00" x2="325.40" y2="424.00" stroke="#555" stroke-width="0.5"/>
<rect x="319.40" y="423.20" width="3.4" height="1.6" fill="#666"/>
<line x1="323.90" y1="412.50" x2="325.40" y2="412.50" stroke="#555" stroke-width="0.5"/>
<rect x="319.40" y="411.70" width="3.4" height="1.6" fill="#666"/>
<line x1="323.90" y1="401.00" x2="325.40" y2="401.00" stroke="#555" stroke-width="0.5"/>
<rect x="319.40" y="400.20" width="3.4" height="1.6" fill="#666"/>
<line x1="323.90" y1="389.50" x2="325.40" y2="389.50" stroke="#555" stroke-width="0.5"/>
<rect x="319.40" y="388.70" width="3.4" height="1.6" fill="#666"/>
<line x1="323.90" y1="378.00" x2="325.40" y2="378.00" stroke="#555" stroke-width="0.5"/>
<rect x="319.40" y="377.20" width="3.4" height="1.6" fill="#666"/>
<line x1="333.39" y1="425.00" x2="333.39" y2="426.40" stroke="#555" stroke-width="0.5"/>
<rect x="332.74" y="427.40" width="1.3" height="1.6" fill="#666"/>
<line x1="340.05" y1="425.00" x2="340.05" y2="426.40" stroke="#555" stroke-width="0.5"/>
<rect x="338.55" y="427.40" width="3.0" height="1.6" fill="#666"/>
<line x1="354.70" y1="425.00" x2="354.70" y2="426.40" stroke="#555" stroke-width="0.5"/>
<rect x="353.20" y="427.40" width="3.0" height="1.6" fill="#666"/>
<line x1="369.36" y1="425.00" x2="369.36" y2="426.40" stroke="#555" stroke-width="0.5"/>
<rect x="367.86" y="427.40" width="3.0" height="1.6" fill="#666"/>
<line x1="383.34" y1="425.00" x2="383.34" y2="426.40" stroke="#555" stroke-width="0.5"/>
<rect x="381.84" y="427.40" width="3.0" height="1.6" fill="#666"/>
<path d="M326.00 424.20 C327.80 424.20 333.48 424.42 336.00 424.20 C338.52 423.98 338.65 423.67 340.00 423.00 C341.35 422.33 342.24 422.12 343.50 420.50 C344.76 418.88 345.74 416.70 347.00 414.00 C348.26 411.30 349.42 407.75 350.50 405.50 C351.58 403.25 352.30 402.49 353.00 401.50 C353.70 400.51 353.86 399.91 354.40 400.00 C354.94 400.09 355.26 400.56 356.00 402.00 C356.74 403.44 357.69 406.11 358.50 408.00 C359.31 409.89 359.87 411.44 360.50 412.50 C361.13 413.56 361.37 413.18 362.00 413.90 C362.63 414.62 363.10 415.31 364.00 416.50 C364.90 417.69 365.92 419.33 367.00 420.50 C368.08 421.67 368.92 422.33 370.00 423.00 C371.08 423.67 369.22 423.98 373.00 424.20 C376.78 424.42 387.76 424.20 391.00 424.20" fill="none" stroke="#222" stroke-width="0.8" stroke-linejoin="round"/>
<line x1="357.20" y1="397.10" x2="390.70" y2="397.10" stroke="#444" stroke-width="0.7"/>
<line x1="357.20" y1="396.10" x2="357.20" y2="398.10" stroke="#444" stroke-width="0.6"/>
<line x1="390.70" y1="396.10" x2="390.70" y2="398.10" stroke="#444" stroke-width="0.6"/>
<text x="372.30" y="394.00" font-size="7.8" text-anchor="middle" fill="#1a1a1a">38.35 %</text>
<text x="328.20" y="384.90" font-size="8.5" text-anchor="start" fill="#1a1a1a">h.</text>
<rect x="401.3" y="376.0" width="67.00" height="49.00" fill="#fff" stroke="#3c3c3c" stroke-width="0.55"/>
<line x1="400.60" y1="377.00" x2="400.60" y2="425.00" stroke="#555" stroke-width="1.0" stroke-dasharray="0.45 1.05"/>
<line x1="401.30" y1="425.70" x2="467.30" y2="425.70" stroke="#555" stroke-width="1.0" stroke-dasharray="0.45 1.05"/>
<line x1="399.80" y1="424.00" x2="401.30" y2="424.00" stroke="#555" stroke-width="0.5"/>
<rect x="395.30" y="423.20" width="3.4" height="1.6" fill="#666"/>
<line x1="399.80" y1="412.50" x2="401.30" y2="412.50" stroke="#555" stroke-width="0.5"/>
<rect x="395.30" y="411.70" width="3.4" height="1.6" fill="#666"/>
<line x1="399.80" y1="401.00" x2="401.30" y2="401.00" stroke="#555" stroke-width="0.5"/>
<rect x="395.30" y="400.20" width="3.4" height="1.6" fill="#666"/>
<line x1="399.80" y1="389.50" x2="401.30" y2="389.50" stroke="#555" stroke-width="0.5"/>
<rect x="395.30" y="388.70" width="3.4" height="1.6" fill="#666"/>
<line x1="399.80" y1="378.00" x2="401.30" y2="378.00" stroke="#555" stroke-width="0.5"/>
<rect x="395.30" y="377.20" width="3.4" height="1.6" fill="#666"/>
<line x1="409.34" y1="425.00" x2="409.34" y2="426.40" stroke="#555" stroke-width="0.5"/>
<rect x="408.69" y="427.40" width="1.3" height="1.6" fill="#666"/>
<line x1="416.04" y1="425.00" x2="416.04" y2="426.40" stroke="#555" stroke-width="0.5"/>
<rect x="414.54" y="427.40" width="3.0" height="1.6" fill="#666"/>
<line x1="430.78" y1="425.00" x2="430.78" y2="426.40" stroke="#555" stroke-width="0.5"/>
<rect x="429.28" y="427.40" width="3.0" height="1.6" fill="#666"/>
<line x1="445.52" y1="425.00" x2="445.52" y2="426.40" stroke="#555" stroke-width="0.5"/>
<rect x="444.02" y="427.40" width="3.0" height="1.6" fill="#666"/>
<line x1="459.59" y1="425.00" x2="459.59" y2="426.40" stroke="#555" stroke-width="0.5"/>
<rect x="458.09" y="427.40" width="3.0" height="1.6" fill="#666"/>
<path d="M401.50 424.20 C403.66 424.20 410.80 424.69 413.50 424.20 C416.20 423.71 415.51 423.34 416.50 421.50 C417.49 419.66 418.19 416.52 419.00 414.00 C419.81 411.48 420.42 409.03 421.00 407.50 C421.58 405.97 421.70 405.41 422.20 405.50 C422.70 405.59 423.12 406.74 423.80 408.00 C424.48 409.26 425.24 411.15 426.00 412.50 C426.76 413.85 427.41 414.82 428.00 415.50 C428.59 416.18 428.76 416.57 429.30 416.30 C429.84 416.03 430.24 414.86 431.00 414.00 C431.76 413.14 432.60 412.49 433.50 411.50 C434.40 410.51 435.19 409.33 436.00 408.50 C436.81 407.67 437.35 407.22 438.00 406.90 C438.65 406.58 438.97 406.50 439.60 406.70 C440.23 406.90 440.89 407.73 441.50 408.00 C442.11 408.27 442.48 407.88 443.00 408.20 C443.52 408.52 443.77 408.76 444.40 409.80 C445.03 410.84 445.58 412.25 446.50 414.00 C447.42 415.75 448.42 417.92 449.50 419.50 C450.58 421.08 451.47 421.99 452.50 422.80 C453.53 423.61 454.03 423.75 455.20 424.00 C456.37 424.25 456.88 424.16 459.00 424.20 C461.12 424.24 465.56 424.20 467.00 424.20" fill="none" stroke="#222" stroke-width="0.8" stroke-linejoin="round"/>
<line x1="432.40" y1="397.60" x2="467.60" y2="397.60" stroke="#444" stroke-width="0.7"/>
<line x1="432.40" y1="396.60" x2="432.40" y2="398.60" stroke="#444" stroke-width="0.6"/>
<line x1="467.60" y1="396.60" x2="467.60" y2="398.60" stroke="#444" stroke-width="0.6"/>
<text x="450.40" y="393.60" font-size="7.8" text-anchor="middle" fill="#1a1a1a">49.35 %</text>
<text x="404.10" y="384.90" font-size="8.5" text-anchor="start" fill="#1a1a1a">i.</text>
<line x1="529.00" y1="244.00" x2="529.00" y2="328.00" stroke="#777" stroke-width="0.7"/>
<line x1="529.00" y1="328.00" x2="658.60" y2="328.00" stroke="#777" stroke-width="0.7"/>
<text x="525.40" y="330.70" font-size="7.4" text-anchor="end" fill="#1a1a1a">0</text>
<line x1="527.50" y1="328.00" x2="529.00" y2="328.00" stroke="#777" stroke-width="0.5"/>
<text x="525.40" y="318.82" font-size="7.4" text-anchor="end" fill="#1a1a1a">20</text>
<line x1="527.50" y1="316.12" x2="529.00" y2="316.12" stroke="#777" stroke-width="0.5"/>
<text x="525.40" y="306.94" font-size="7.4" text-anchor="end" fill="#1a1a1a">40</text>
<line x1="527.50" y1="304.24" x2="529.00" y2="304.24" stroke="#777" stroke-width="0.5"/>
<text x="525.40" y="295.06" font-size="7.4" text-anchor="end" fill="#1a1a1a">60</text>
<line x1="527.50" y1="292.36" x2="529.00" y2="292.36" stroke="#777" stroke-width="0.5"/>
<text x="525.40" y="283.18" font-size="7.4" text-anchor="end" fill="#1a1a1a">80</text>
<line x1="527.50" y1="280.48" x2="529.00" y2="280.48" stroke="#777" stroke-width="0.5"/>
<text x="525.40" y="271.30" font-size="7.4" text-anchor="end" fill="#1a1a1a">100</text>
<line x1="527.50" y1="268.60" x2="529.00" y2="268.60" stroke="#777" stroke-width="0.5"/>
<text x="525.40" y="259.42" font-size="7.4" text-anchor="end" fill="#1a1a1a">120</text>
<line x1="527.50" y1="256.72" x2="529.00" y2="256.72" stroke="#777" stroke-width="0.5"/>
<text x="525.40" y="247.54" font-size="7.4" text-anchor="end" fill="#1a1a1a">140</text>
<line x1="527.50" y1="244.84" x2="529.00" y2="244.84" stroke="#777" stroke-width="0.5"/>
<text x="507.60" y="287.00" font-size="7.6" text-anchor="middle" fill="#1a1a1a" transform="rotate(-90 507.6 287)">Relative MFI</text>
<rect x="532.30" y="323.84" width="8.7" height="4.16" fill="#0a0a0a"/>
<line x1="536.65" y1="320.28" x2="536.65" y2="325.62" stroke="#777" stroke-width="0.6"/>
<line x1="535.25" y1="320.28" x2="538.05" y2="320.28" stroke="#777" stroke-width="0.6"/>
<line x1="535.25" y1="325.62" x2="538.05" y2="325.62" stroke="#777" stroke-width="0.6"/>
<rect x="546.40" y="322.95" width="8.7" height="5.05" fill="#0a0a0a"/>
<line x1="550.75" y1="322.06" x2="550.75" y2="323.84" stroke="#777" stroke-width="0.6"/>
<line x1="549.35" y1="322.06" x2="552.15" y2="322.06" stroke="#777" stroke-width="0.6"/>
<line x1="549.35" y1="323.84" x2="552.15" y2="323.84" stroke="#777" stroke-width="0.6"/>
<rect x="561.30" y="268.60" width="8.7" height="59.40" fill="#0a0a0a"/>
<rect x="576.00" y="291.77" width="8.7" height="36.23" fill="#0a0a0a"/>
<line x1="580.35" y1="289.39" x2="580.35" y2="294.14" stroke="#777" stroke-width="0.6"/>
<line x1="578.95" y1="289.39" x2="581.75" y2="289.39" stroke="#777" stroke-width="0.6"/>
<line x1="578.95" y1="294.14" x2="581.75" y2="294.14" stroke="#777" stroke-width="0.6"/>
<rect x="590.80" y="285.83" width="8.7" height="42.17" fill="#0a0a0a"/>
<line x1="595.15" y1="279.89" x2="595.15" y2="291.77" stroke="#777" stroke-width="0.6"/>
<line x1="593.75" y1="279.89" x2="596.55" y2="279.89" stroke="#777" stroke-width="0.6"/>
<line x1="593.75" y1="291.77" x2="596.55" y2="291.77" stroke="#777" stroke-width="0.6"/>
<rect x="605.10" y="270.38" width="8.7" height="57.62" fill="#0a0a0a"/>
<line x1="609.45" y1="254.34" x2="609.45" y2="286.42" stroke="#777" stroke-width="0.6"/>
<line x1="608.05" y1="254.34" x2="610.85" y2="254.34" stroke="#777" stroke-width="0.6"/>
<line x1="608.05" y1="286.42" x2="610.85" y2="286.42" stroke="#777" stroke-width="0.6"/>
<rect x="619.80" y="323.25" width="8.7" height="4.75" fill="#0a0a0a"/>
<line x1="624.15" y1="322.36" x2="624.15" y2="324.14" stroke="#777" stroke-width="0.6"/>
<line x1="622.75" y1="322.36" x2="625.55" y2="322.36" stroke="#777" stroke-width="0.6"/>
<line x1="622.75" y1="324.14" x2="625.55" y2="324.14" stroke="#777" stroke-width="0.6"/>
<rect x="634.30" y="285.83" width="8.7" height="42.17" fill="#0a0a0a"/>
<line x1="638.65" y1="284.04" x2="638.65" y2="287.61" stroke="#777" stroke-width="0.6"/>
<line x1="637.25" y1="284.04" x2="640.05" y2="284.04" stroke="#777" stroke-width="0.6"/>
<line x1="637.25" y1="287.61" x2="640.05" y2="287.61" stroke="#777" stroke-width="0.6"/>
<rect x="649.00" y="273.35" width="8.7" height="54.65" fill="#0a0a0a"/>
<line x1="653.35" y1="263.85" x2="653.35" y2="282.86" stroke="#777" stroke-width="0.6"/>
<line x1="651.95" y1="263.85" x2="654.75" y2="263.85" stroke="#777" stroke-width="0.6"/>
<line x1="651.95" y1="282.86" x2="654.75" y2="282.86" stroke="#777" stroke-width="0.6"/>
<text x="580.35" y="336.20" font-size="7.8" text-anchor="middle" fill="#1a1a1a">1</text>
<text x="595.15" y="336.20" font-size="7.8" text-anchor="middle" fill="#1a1a1a">2</text>
<text x="609.45" y="336.20" font-size="7.8" text-anchor="middle" fill="#1a1a1a">3</text>
<text x="624.15" y="336.20" font-size="7.8" text-anchor="middle" fill="#1a1a1a">4</text>
<text x="638.65" y="336.20" font-size="7.8" text-anchor="middle" fill="#1a1a1a">5</text>
<text x="653.35" y="336.20" font-size="7.8" text-anchor="middle" fill="#1a1a1a">6</text>
<line x1="574.20" y1="338.40" x2="655.80" y2="338.40" stroke="#111" stroke-width="0.9"/>
<text x="614.00" y="346.80" font-size="7.8" text-anchor="middle" fill="#1a1a1a">CH compounds</text>
<line x1="563.30" y1="350.60" x2="656.80" y2="350.60" stroke="#111" stroke-width="0.9"/>
<text x="610.50" y="359.80" font-size="7.8" text-anchor="middle" fill="#1a1a1a">KG-1/sPD-L1/Atto dye</text>
<text x="540.20" y="333.90" font-size="7.8" text-anchor="end" fill="#1a1a1a" transform="rotate(-55 540.2 333.9)">KG-1/PBS</text>
<text x="555.40" y="333.80" font-size="7.8" text-anchor="end" fill="#1a1a1a" transform="rotate(-55 555.4 333.8)">KG-1/Atto dye</text>
<path d="M563.2 257.6 L563.2 250.6 L626 250.6 L626 256.6" fill="none" stroke="#8a8a8a" stroke-width="0.8"/>
<text x="593.20" y="251.00" font-size="7.5" text-anchor="middle" fill="#555">***</text>
<text x="601.00" y="400.60" font-size="7.8" text-anchor="middle" fill="#1a1a1a">KG-1 cells</text>
<line x1="566.50" y1="403.20" x2="633.60" y2="403.20" stroke="#444" stroke-width="0.7"/>
<text x="537.60" y="413.60" font-size="7.8" text-anchor="start" fill="#1a1a1a">CH-4</text>
<text x="572.20" y="413.00" font-size="7.8" text-anchor="middle" fill="#1a1a1a">0</text>
<text x="589.10" y="413.00" font-size="7.8" text-anchor="middle" fill="#1a1a1a">1</text>
<text x="606.30" y="413.00" font-size="7.8" text-anchor="middle" fill="#1a1a1a">10</text>
<text x="625.80" y="413.00" font-size="7.8" text-anchor="middle" fill="#1a1a1a">20</text>
<text x="633.20" y="413.00" font-size="7.6" text-anchor="start" fill="#1a1a1a">(µM)</text>
<text x="537.60" y="426.60" font-size="7.8" text-anchor="start" fill="#1a1a1a">PD-1</text>
<text x="529.40" y="439.90" font-size="7.8" text-anchor="start" fill="#1a1a1a">B-actin</text>
<defs>
<filter id="blur1" x="-20%" y="-100%" width="140%" height="300%"><feGaussianBlur stdDeviation="1.0 0.65"/></filter>
<filter id="blur2" x="-20%" y="-100%" width="140%" height="300%"><feGaussianBlur stdDeviation="0.9 0.6"/></filter>
<linearGradient id="pdbg" x1="0" y1="0" x2="0" y2="1"><stop offset="0" stop-color="#b4b4b4"/><stop offset="0.55" stop-color="#a6a6a6"/><stop offset="1" stop-color="#b0b0b0"/></linearGradient>
<clipPath id="clipPD"><rect x="559.3" y="416.2" width="75.5" height="15"/></clipPath>
<clipPath id="clipBA"><rect x="559.3" y="432.0" width="75.5" height="14.1"/></clipPath>
</defs>
<rect x="559.3" y="416.2" width="75.5" height="15" fill="url(#pdbg)"/>
<g clip-path="url(#clipPD)">
<g filter="url(#blur1)">
<rect x="559" y="415.2" width="76" height="1.8" fill="#6a6a6a"/>
<rect x="559" y="430.2" width="76" height="1.6" fill="#7a7a7a"/>
<path d="M565 425.5 L580 424.9" stroke="#444" stroke-width="2.0" stroke-linecap="round"/>
<path d="M585.5 425.1 L595.6 424.6" stroke="#555" stroke-width="1.7" stroke-linecap="round"/>
<path d="M602.5 424.5 L614.2 423.7" stroke="#444" stroke-width="1.9" stroke-linecap="round"/>
<path d="M619.5 424.0 L626.5 422.7 L634.5 421.0" stroke="#0c0c0c" stroke-width="3.2" stroke-linecap="round" fill="none"/>
<path d="M626 421.6 L635 419.8" stroke="#1c1c1c" stroke-width="2.2" stroke-linecap="round" fill="none"/>
</g></g>
<rect x="559.3" y="416.2" width="75.5" height="15" fill="none" stroke="#505050" stroke-width="0.7"/>
<rect x="559.3" y="432.0" width="75.5" height="14.1" fill="#f5f5f5" stroke="#8a8a8a" stroke-width="0.7"/>
<g clip-path="url(#clipBA)" filter="url(#blur2)">
<path d="M564.5 440.7 L576 440.1" stroke="#1e1e1e" stroke-width="2.3" stroke-linecap="round"/>
<path d="M582.5 439.9 L593 439.5" stroke="#050505" stroke-width="3.2" stroke-linecap="round"/>
<path d="M598 439.1 L608.8 438.1" stroke="#222" stroke-width="2.2" stroke-linecap="round"/>
<path d="M615.4 437.0 L627.4 435.9" stroke="#0a0a0a" stroke-width="2.8" stroke-linecap="round"/>
</g>
</svg>
</body></html>
